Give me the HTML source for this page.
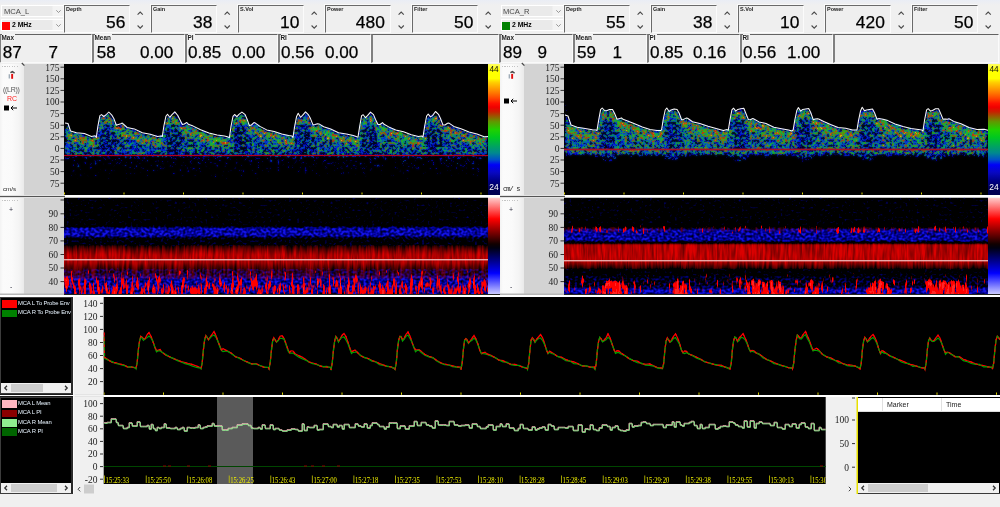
<!DOCTYPE html><html lang="en"><head><meta charset="utf-8"><title>TCD Monitor</title><style>
*{box-sizing:border-box;margin:0;padding:0}
html,body{width:1000px;height:507px;overflow:hidden;background:#f0f0f0}
body{position:relative;font-family:"Liberation Sans",sans-serif;color:#000}
.a{position:absolute}
.top{left:0;top:0;width:1000px;height:5px;background:linear-gradient(#eaedf5,#f0f0f0)}
.combo{position:absolute;height:12px;width:63px;background:linear-gradient(90deg,#eaeaea 0,#eaeaea 50px,#f3f3f3 51px);border:1px solid #fff;font-size:8px;line-height:10px;color:#484848;white-space:nowrap}
.combo span{position:absolute;left:2px;top:1px;font-size:7.6px}
.combo b{position:absolute;left:10px;top:0.4px;color:#000;font-size:6.8px}
.combo i{position:absolute;left:0.4px;top:2.4px;width:7.6px;height:7.8px}
.combo svg{position:absolute;right:0;top:0}
.pbox{position:absolute;top:5px;height:28px;width:66px;border-bottom:1px solid #fcfcfc;box-shadow:-1px -1px 0 #fafafa;border-top:1px solid #6a6a6a;border-left:1px solid #6a6a6a;border-right:1px solid #fbfbfb;background:#efefef}
.pbox em,.sbox em{position:absolute;left:1px;top:-1.5px;font-style:normal;font-size:5.5px;line-height:8px;font-weight:bold;color:#222}
.sbox em{font-size:6.4px;left:0.5px;top:-0.6px;line-height:7px;background:#f4f4f4;padding:0 1px 0 0}
.pbox u{position:absolute;right:3.6px;top:5.5px;text-decoration:none;-webkit-text-stroke:0.25px #000;font-size:17.4px;line-height:20px}
.sbox{position:absolute;top:34px;height:29px;border-top:1px solid #626262;border-left:2px solid #808080;border-bottom:1px solid #f9f9f9;border-right:1px solid #fbfbfb;background:#efefef}
.sbox u{position:absolute;top:8px;text-decoration:none;-webkit-text-stroke:0.25px #000;font-size:17.1px;line-height:20px;white-space:nowrap}
.spin{position:absolute;top:6px;width:17px;height:27px}
.icol{position:absolute;width:24px;background:linear-gradient(90deg,#f3f3f3 0,#fbfbfb 3px,#fafafa 12px,#f4f4f4 19px,#eaeaea 24px)}
.acol{position:absolute;width:40px;background:#d3d3d3}
.leg{position:absolute;left:0;width:73px;background:#000;border:1px solid #3c3c3c;border-right:2px solid #2a2a2a}
.leg i{position:absolute;left:1px;width:15px;height:7.5px}
.leg span{position:absolute;left:17px;font-size:5.9px;line-height:8px;color:#e8f4ff;white-space:nowrap;letter-spacing:-0.15px}
.sb{position:absolute;height:10px;background:#f0f0f0}
.sb s{position:absolute;top:1px;height:8px;background:#cdcdcd}
</style></head><body>
<div class="a top"></div>
<div class="combo" style="left:1px;top:5px;width:63px"><span>MCA_L</span><svg width="12" height="10" viewBox="0 0 12 10"><path d="M5.3 4.3l2.2 2.2L9.7 4.3" fill="none" stroke="#8a8a8a" stroke-width="0.9"/></svg></div>
<div class="combo" style="left:1px;top:19px;width:63px"><i style="background:#ff0000"></i><b>2 MHz</b><svg width="12" height="10" viewBox="0 0 12 10"><path d="M5.3 4.3l2.2 2.2L9.7 4.3" fill="none" stroke="#8a8a8a" stroke-width="0.9"/></svg></div>
<div class="pbox" style="left:64px"><em>Depth</em><u>56</u></div>
<svg class="spin" style="left:131px" viewBox="0 0 17 27"><path d="M6.6 8.6l2.6-2.6 2.6 2.6M6.6 19.5l2.6 2.6 2.6-2.6" fill="none" stroke="#4a4a4a" stroke-width="1.1"/></svg>
<div class="pbox" style="left:151px"><em>Gain</em><u>38</u></div>
<svg class="spin" style="left:218px" viewBox="0 0 17 27"><path d="M6.6 8.6l2.6-2.6 2.6 2.6M6.6 19.5l2.6 2.6 2.6-2.6" fill="none" stroke="#4a4a4a" stroke-width="1.1"/></svg>
<div class="pbox" style="left:238px"><em>S.Vol</em><u>10</u></div>
<svg class="spin" style="left:305px" viewBox="0 0 17 27"><path d="M6.6 8.6l2.6-2.6 2.6 2.6M6.6 19.5l2.6 2.6 2.6-2.6" fill="none" stroke="#4a4a4a" stroke-width="1.1"/></svg>
<div class="pbox" style="left:325px"><em>Power</em><u style="right:5.2px">480</u></div>
<svg class="spin" style="left:392px" viewBox="0 0 17 27"><path d="M6.6 8.6l2.6-2.6 2.6 2.6M6.6 19.5l2.6 2.6 2.6-2.6" fill="none" stroke="#4a4a4a" stroke-width="1.1"/></svg>
<div class="pbox" style="left:412px"><em>Filter</em><u>50</u></div>
<svg class="spin" style="left:479px" viewBox="0 0 17 27"><path d="M6.6 8.6l2.6-2.6 2.6 2.6M6.6 19.5l2.6 2.6 2.6-2.6" fill="none" stroke="#4a4a4a" stroke-width="1.1"/></svg>
<div class="sbox" style="left:-1px;width:93px"><em>Max</em><u style="left:1.8px">87</u><u style="left:47.4px">7</u></div>
<div class="sbox" style="left:92px;width:93px"><em>Mean</em><u style="left:2.7px">58</u><u style="left:46px">0.00</u></div>
<div class="sbox" style="left:185px;width:93px"><em>PI</em><u style="left:1px">0.85</u><u style="left:45px">0.00</u></div>
<div class="sbox" style="left:278px;width:93px"><em>RI</em><u style="left:1px">0.56</u><u style="left:45px">0.00</u></div>
<div class="sbox" style="left:371px;width:128px"><em></em></div>
<div class="combo" style="left:501px;top:5px;width:63px"><span style="left:1px">MCA_R</span><svg width="12" height="10" viewBox="0 0 12 10"><path d="M5.3 4.3l2.2 2.2L9.7 4.3" fill="none" stroke="#8a8a8a" stroke-width="0.9"/></svg></div>
<div class="combo" style="left:501px;top:19px;width:63px"><i style="background:#008000"></i><b>2 MHz</b><svg width="12" height="10" viewBox="0 0 12 10"><path d="M5.3 4.3l2.2 2.2L9.7 4.3" fill="none" stroke="#8a8a8a" stroke-width="0.9"/></svg></div>
<div class="pbox" style="left:564px"><em>Depth</em><u>55</u></div>
<svg class="spin" style="left:631px" viewBox="0 0 17 27"><path d="M6.6 8.6l2.6-2.6 2.6 2.6M6.6 19.5l2.6 2.6 2.6-2.6" fill="none" stroke="#4a4a4a" stroke-width="1.1"/></svg>
<div class="pbox" style="left:651px"><em>Gain</em><u>38</u></div>
<svg class="spin" style="left:718px" viewBox="0 0 17 27"><path d="M6.6 8.6l2.6-2.6 2.6 2.6M6.6 19.5l2.6 2.6 2.6-2.6" fill="none" stroke="#4a4a4a" stroke-width="1.1"/></svg>
<div class="pbox" style="left:738px"><em>S.Vol</em><u>10</u></div>
<svg class="spin" style="left:805px" viewBox="0 0 17 27"><path d="M6.6 8.6l2.6-2.6 2.6 2.6M6.6 19.5l2.6 2.6 2.6-2.6" fill="none" stroke="#4a4a4a" stroke-width="1.1"/></svg>
<div class="pbox" style="left:825px"><em>Power</em><u style="right:5.2px">420</u></div>
<svg class="spin" style="left:892px" viewBox="0 0 17 27"><path d="M6.6 8.6l2.6-2.6 2.6 2.6M6.6 19.5l2.6 2.6 2.6-2.6" fill="none" stroke="#4a4a4a" stroke-width="1.1"/></svg>
<div class="pbox" style="left:912px"><em>Filter</em><u>50</u></div>
<svg class="spin" style="left:979px" viewBox="0 0 17 27"><path d="M6.6 8.6l2.6-2.6 2.6 2.6M6.6 19.5l2.6 2.6 2.6-2.6" fill="none" stroke="#4a4a4a" stroke-width="1.1"/></svg>
<div class="sbox" style="left:499px;width:74px"><em>Max</em><u style="left:2px">89</u><u style="left:36.6px">9</u></div>
<div class="sbox" style="left:573px;width:74px"><em>Mean</em><u style="left:2px">59</u><u style="left:37.4px">1</u></div>
<div class="sbox" style="left:647px;width:93px"><em>PI</em><u style="left:1px">0.85</u><u style="left:44px">0.16</u></div>
<div class="sbox" style="left:740px;width:93px"><em>RI</em><u style="left:1px">0.56</u><u style="left:45px">1.00</u></div>
<div class="sbox" style="left:833px;width:166px"><em></em></div>
<div class="icol" style="left:0px;top:64px;height:131px"></div>
<div class="acol" style="left:24px;top:64px;height:131px"></div>
<div class="icol" style="left:0px;top:197.5px;height:96px"></div>
<div class="acol" style="left:24px;top:197.5px;height:96px"></div>
<div class="icol" style="left:500px;top:64px;height:131px"></div>
<div class="acol" style="left:524px;top:64px;height:131px"></div>
<div class="icol" style="left:500px;top:197.5px;height:96px"></div>
<div class="acol" style="left:524px;top:197.5px;height:96px"></div>
<svg class="a" style="left:0;top:0" width="1000" height="507" viewBox="0 0 1000 507">
<defs>
<linearGradient id="cb1" x1="0" y1="0" x2="0" y2="1">
<stop offset="0" stop-color="#ffff60"/><stop offset="0.05" stop-color="#ffff00"/><stop offset="0.11" stop-color="#ffff00"/><stop offset="0.14" stop-color="#ffd000"/><stop offset="0.18" stop-color="#ffa400"/><stop offset="0.22" stop-color="#ff7800"/><stop offset="0.26" stop-color="#ff4800"/><stop offset="0.3" stop-color="#ff1000"/><stop offset="0.33" stop-color="#f00000"/><stop offset="0.365" stop-color="#c82000"/><stop offset="0.4" stop-color="#985800"/><stop offset="0.44" stop-color="#609800"/><stop offset="0.5" stop-color="#20d000"/><stop offset="0.56" stop-color="#00c820"/><stop offset="0.62" stop-color="#00a858"/><stop offset="0.68" stop-color="#008890"/><stop offset="0.73" stop-color="#0050c8"/><stop offset="0.77" stop-color="#0000f8"/><stop offset="0.83" stop-color="#0808c0"/><stop offset="0.89" stop-color="#000088"/><stop offset="0.95" stop-color="#000058"/><stop offset="1" stop-color="#000050"/>
</linearGradient>
<linearGradient id="cb2" x1="0" y1="0" x2="0" y2="1">
<stop offset="0" stop-color="#ffd0d0"/><stop offset="0.22" stop-color="#ff0000"/><stop offset="0.48" stop-color="#100000"/><stop offset="0.52" stop-color="#000010"/><stop offset="0.78" stop-color="#0000ff"/><stop offset="1" stop-color="#d0d0ff"/>
</linearGradient>
<filter id="fs" filterUnits="userSpaceOnUse" x="0" y="60" width="1000" height="140" color-interpolation-filters="sRGB">
<feGaussianBlur in="SourceGraphic" stdDeviation="1.5" result="sb"/>
<feTurbulence type="fractalNoise" baseFrequency="0.4" numOctaves="2" seed="11" result="t"/>
<feColorMatrix in="t" type="matrix" values="1 0 0 0 0  1 0 0 0 0  1 0 0 0 0  0 0 0 0 1" result="n"/>
<feComposite in="sb" in2="n" operator="arithmetic" k1="0" k2="1.5" k3="1.7" k4="-1.75" result="m"/>
<feComponentTransfer in="m" result="c">
<feFuncR type="table" tableValues="0 0 0 0 0 .08 .38 .75 1 1 1"/>
<feFuncG type="table" tableValues="0 0 0 .35 .62 .82 .62 .2 0 .5 1"/>
<feFuncB type="table" tableValues="0 .45 1 .8 .45 .05 0 0 0 0 0"/>
<feFuncA type="linear" slope="0" intercept="1"/>
</feComponentTransfer>
<feGaussianBlur stdDeviation="0.8" result="cb"/>
<feComposite in="c" in2="cb" operator="arithmetic" k1="0" k2="0.5" k3="0.5" k4="0"/>
</filter>
<filter id="fb" filterUnits="userSpaceOnUse" x="0" y="196" width="1000" height="100" color-interpolation-filters="sRGB">
<feGaussianBlur in="SourceGraphic" stdDeviation="0.5 1.3" result="sb"/>
<feTurbulence type="fractalNoise" baseFrequency="0.36 0.42" numOctaves="1" seed="5" result="t"/>
<feColorMatrix in="t" type="matrix" values="1 0 0 0 0  1 0 0 0 0  1 0 0 0 0  0 0 0 0 1" result="n"/>
<feComposite in="sb" in2="n" operator="arithmetic" k1="0" k2="1.6" k3="2" k4="-1.7" result="m"/>
<feColorMatrix in="m" type="matrix" values="0.2 0 0 0 -0.12  0.2 0 0 0 -0.12  0 0 0 0 0.9  1.0 0 0 0 0"/>
<feGaussianBlur stdDeviation="0.5"/>
</filter>
<filter id="fr" filterUnits="userSpaceOnUse" x="0" y="196" width="1000" height="100" color-interpolation-filters="sRGB">
<feGaussianBlur in="SourceGraphic" stdDeviation="0.8 1" result="sb"/>
<feTurbulence type="fractalNoise" baseFrequency="0.4 0.05" numOctaves="2" seed="8" result="t"/>
<feColorMatrix in="t" type="matrix" values="1 0 0 0 0  1 0 0 0 0  1 0 0 0 0  0 0 0 0 1" result="n"/>
<feComposite in="sb" in2="n" operator="arithmetic" k1="0" k2="1.7" k3="0.9" k4="-1.3" result="m"/>
<feColorMatrix in="m" type="matrix" values="0 0 0 0 0.86  0 0 0 0 0  0 0 0 0 0  1.0 0 0 0 0"/>
<feGaussianBlur stdDeviation="0.5"/>
</filter>
<filter id="fx" filterUnits="userSpaceOnUse" x="0" y="196" width="1000" height="100" color-interpolation-filters="sRGB">
<feGaussianBlur in="SourceGraphic" stdDeviation="1.5 1.5" result="sb"/>
<feTurbulence type="fractalNoise" baseFrequency="0.38 0.08" numOctaves="2" seed="14" result="t"/>
<feColorMatrix in="t" type="matrix" values="1 0 0 0 0  1 0 0 0 0  1 0 0 0 0  0 0 0 0 1" result="n"/>
<feComposite in="sb" in2="n" operator="arithmetic" k1="0" k2="2.2" k3="3" k4="-2.55" result="m"/>
<feColorMatrix in="m" type="matrix" values="0 0 0 0 1  4 0 0 0 -3.85  4 0 0 0 -3.85  3 0 0 0 -0.6"/>
<feGaussianBlur stdDeviation="0.5"/>
</filter>
</defs>
<clipPath id="c0"><rect x="64" y="64" width="424" height="131"/></clipPath>
<clipPath id="e0"><polygon points="64,156.0 65,123 68,123.5 70.5,131 76.4,132.7 84.4,133.6 91.5,136.4 95.1,135.8 96.3,137.5 97.9,126.1 99.9,115.6 101.5,114.6 103.8,116.5 105.8,115 108.8,112 111.8,115.1 113.8,118.4 116.3,125.2 118.3,124.4 120.8,123.8 122.3,123.1 127.1,127.5 134.3,128.9 142.3,132.8 150.3,134.3 157.5,136.6 161.1,136.1 162.3,136.5 163.9,125.8 165.9,116.3 167.5,114.2 169.8,117.3 171.8,114.8 174.8,111.8 177.8,115.5 179.8,119.5 182.3,124.6 184.3,124 186.8,122.5 188.3,124.2 193.2,126.1 200.6,129.7 208.9,133 217.1,134.9 224.5,135.9 228.2,137.1 229.4,137.8 231,126.4 233,116.4 234.6,114.5 236.9,116.6 238.9,114.3 241.9,112.1 244.9,114.3 246.9,118.8 249.4,125.6 251.4,125 253.9,122.6 255.4,123.1 259.9,126.4 266.7,129.9 274.2,131.5 281.7,133.9 288.5,135.5 291.9,136 293,137.5 294.6,126.6 296.6,116.4 298.2,113.3 300.5,117.3 302.5,115.4 305.5,111.9 308.5,114.9 310.5,118.6 313,124.9 315,124.5 317.5,123.8 319,123.9 323.7,126.7 330.7,129.1 338.5,132.7 346.3,134 353.3,135.4 356.8,136.7 358,137.1 359.6,126.9 361.6,115.6 363.2,114.7 365.5,117.7 367.5,115.7 370.5,112.1 373.5,114.6 375.5,119.5 378,124.4 380,124.5 382.5,122.6 384,124.3 388.7,126.9 395.7,129.9 403.5,131.7 411.3,134.7 418.3,136.6 421.8,136 423,137.1 424.6,126.7 426.6,116 428.2,114.1 430.5,116.9 432.5,115.6 435.5,111.5 438.5,114.3 440.5,118.5 443,125.1 445,125 447.5,123.3 449,123.1 453.8,126.4 461,128.8 469,132 477,134 484.2,136.7 487.8,136.6 488,136.9 488,156.0"/></clipPath>
<g clip-path="url(#c0)">
<g filter="url(#fs)">
<rect x="54" y="60" width="444" height="139" fill="#000000"/>
<g clip-path="url(#e0)"><rect x="64" y="64" width="424" height="92.5" fill="#c2c2c2"/>
<polyline points="64,129.7 67,131.3 70,134.5 73,136.7 76,137.5 79,138 82,138.6 85,139.3 88,140 91,141.2 94,141 97,137.5 100,128.3 103,124.5 106,121.4 109,121.7 112,123.3 115,126.7 118,129.5 121,129 124,130.7 127,132.4 130,133.1 133,134 136,135.1 139,136.2 142,137.7 145,138.3 148,139 151,139.7 154,140.5 157,141.5 160,141.3 163,136.8 166,128.3 169,124.5 172,121.6 175,121.8 178,123.3 181,127 184,129.1 187,128.7 190,130.3 193,131.2 196,132.5 199,133.9 202,135.2 205,136.5 208,137.7 211,138.5 214,139.2 217,139.8 220,140.3 223,140.7 226,141.4 229,142.5 232,129.9 235,125.9 238,122.5 241,121.2 244,122.7 247,124.1 250,130.4 253,128.5 256,130 259,131.2 262,132.5 265,134 268,135.2 271,135.9 274,136.7 277,137.5 280,138.3 283,139.2 286,139.9 289,140.6 292,141.2 295,130.6 298,126.6 301,123.4 304,121.2 307,122.5 310,123.8 313,129.9 316,129.2 319,129.8 322,131 325,132.2 328,133.2 331,134.5 334,135.6 337,137 340,138 343,138.5 346,139 349,139.7 352,140.1 355,141 358,142.1 361,129.4 364,125.9 367,122.4 370,121.7 373,123.1 376,125.5 379,129.4 382,128.5 385,130.4 388,131.5 391,132.9 394,134.1 397,135.2 400,135.9 403,136.9 406,137.8 409,138.8 412,139.9 415,140.7 418,141.5 421,141.1 424,135.6 427,128.2 430,124.1 433,121.3 436,121.7 439,123.4 442,127.4 445,130 448,128.9 451,130.5 454,131.5 457,132.4 460,133.5 463,134.6 466,135.8 469,137 472,137.8 475,138.7 478,139.5 481,140.5 484,141.7 487,141.6 488,141.9" fill="none" stroke="#dedede" stroke-width="13" stroke-linejoin="round"/>
<polyline points="64,129.7 67,131.3 70,134.5 73,136.7 76,137.5 79,138 82,138.6 85,139.3 88,140 91,141.2 94,141 97,137.5 100,128.3 103,124.5 106,121.4 109,121.7 112,123.3 115,126.7 118,129.5 121,129 124,130.7 127,132.4 130,133.1 133,134 136,135.1 139,136.2 142,137.7 145,138.3 148,139 151,139.7 154,140.5 157,141.5 160,141.3 163,136.8 166,128.3 169,124.5 172,121.6 175,121.8 178,123.3 181,127 184,129.1 187,128.7 190,130.3 193,131.2 196,132.5 199,133.9 202,135.2 205,136.5 208,137.7 211,138.5 214,139.2 217,139.8 220,140.3 223,140.7 226,141.4 229,142.5 232,129.9 235,125.9 238,122.5 241,121.2 244,122.7 247,124.1 250,130.4 253,128.5 256,130 259,131.2 262,132.5 265,134 268,135.2 271,135.9 274,136.7 277,137.5 280,138.3 283,139.2 286,139.9 289,140.6 292,141.2 295,130.6 298,126.6 301,123.4 304,121.2 307,122.5 310,123.8 313,129.9 316,129.2 319,129.8 322,131 325,132.2 328,133.2 331,134.5 334,135.6 337,137 340,138 343,138.5 346,139 349,139.7 352,140.1 355,141 358,142.1 361,129.4 364,125.9 367,122.4 370,121.7 373,123.1 376,125.5 379,129.4 382,128.5 385,130.4 388,131.5 391,132.9 394,134.1 397,135.2 400,135.9 403,136.9 406,137.8 409,138.8 412,139.9 415,140.7 418,141.5 421,141.1 424,135.6 427,128.2 430,124.1 433,121.3 436,121.7 439,123.4 442,127.4 445,130 448,128.9 451,130.5 454,131.5 457,132.4 460,133.5 463,134.6 466,135.8 469,137 472,137.8 475,138.7 478,139.5 481,140.5 484,141.7 487,141.6 488,141.9" fill="none" stroke="#ededed" stroke-width="6" stroke-linejoin="round"/>
<ellipse cx="41.5" cy="141" rx="9" ry="17.6" fill="#adadad"/>
<ellipse cx="107.3" cy="141" rx="9" ry="17.6" fill="#adadad"/>
<ellipse cx="173.3" cy="141" rx="9" ry="17.6" fill="#adadad"/>
<ellipse cx="240.4" cy="141" rx="9" ry="17.6" fill="#adadad"/>
<ellipse cx="304" cy="141" rx="9" ry="17.6" fill="#adadad"/>
<ellipse cx="369" cy="141" rx="9" ry="17.6" fill="#adadad"/>
<ellipse cx="434" cy="141" rx="9" ry="17.6" fill="#adadad"/>
<ellipse cx="500" cy="141" rx="9" ry="17.6" fill="#adadad"/>
</g>
<rect x="65.2" y="109" width="1.8" height="15" fill="#d9d9d9"/>
<rect x="64" y="156" width="424" height="6" fill="#737373"/>
<rect x="64" y="162" width="424" height="8" fill="#6b6b6b"/>
<rect x="64" y="170" width="424" height="8" fill="#595959"/>
<rect x="64" y="178" width="424" height="6" fill="#333333"/>
</g>
<polyline points="65,123 68,123.5 70.5,131 76.4,132.7 84.4,133.6 91.5,136.4 95.1,135.8 96.3,137.5 97.9,126.1 99.9,115.6 101.5,114.6 103.8,116.5 105.8,115 108.8,112 111.8,115.1 113.8,118.4 116.3,125.2 118.3,124.4 120.8,123.8 122.3,123.1 127.1,127.5 134.3,128.9 142.3,132.8 150.3,134.3 157.5,136.6 161.1,136.1 162.3,136.5 163.9,125.8 165.9,116.3 167.5,114.2 169.8,117.3 171.8,114.8 174.8,111.8 177.8,115.5 179.8,119.5 182.3,124.6 184.3,124 186.8,122.5 188.3,124.2 193.2,126.1 200.6,129.7 208.9,133 217.1,134.9 224.5,135.9 228.2,137.1 229.4,137.8 231,126.4 233,116.4 234.6,114.5 236.9,116.6 238.9,114.3 241.9,112.1 244.9,114.3 246.9,118.8 249.4,125.6 251.4,125 253.9,122.6 255.4,123.1 259.9,126.4 266.7,129.9 274.2,131.5 281.7,133.9 288.5,135.5 291.9,136 293,137.5 294.6,126.6 296.6,116.4 298.2,113.3 300.5,117.3 302.5,115.4 305.5,111.9 308.5,114.9 310.5,118.6 313,124.9 315,124.5 317.5,123.8 319,123.9 323.7,126.7 330.7,129.1 338.5,132.7 346.3,134 353.3,135.4 356.8,136.7 358,137.1 359.6,126.9 361.6,115.6 363.2,114.7 365.5,117.7 367.5,115.7 370.5,112.1 373.5,114.6 375.5,119.5 378,124.4 380,124.5 382.5,122.6 384,124.3 388.7,126.9 395.7,129.9 403.5,131.7 411.3,134.7 418.3,136.6 421.8,136 423,137.1 424.6,126.7 426.6,116 428.2,114.1 430.5,116.9 432.5,115.6 435.5,111.5 438.5,114.3 440.5,118.5 443,125.1 445,125 447.5,123.3 449,123.1 453.8,126.4 461,128.8 469,132 477,134 484.2,136.7 487.8,136.6 488,136.9" fill="none" stroke="#f8f8f8" stroke-width="1.05" stroke-linejoin="round"/>
<rect x="64" y="154.9" width="424" height="1.2" fill="#b4001c"/>
<rect x="64" y="192.5" width="1" height="2" fill="#d8d000"/>
<rect x="123.5" y="192.5" width="1" height="2" fill="#d8d000"/>
<rect x="183" y="192.5" width="1" height="2" fill="#d8d000"/>
<rect x="242.5" y="192.5" width="1" height="2" fill="#d8d000"/>
<rect x="302" y="192.5" width="1" height="2" fill="#d8d000"/>
<rect x="361.5" y="192.5" width="1" height="2" fill="#d8d000"/>
<rect x="421" y="192.5" width="1" height="2" fill="#d8d000"/>
<rect x="480.5" y="192.5" width="1" height="2" fill="#d8d000"/>
</g>
<clipPath id="c500"><rect x="564" y="64" width="424" height="131"/></clipPath>
<clipPath id="e500"><polygon points="564,150.0 565,115 568,116 571,125 577.2,127.2 585.1,128.6 592.3,129.8 595.8,129.9 597,130.5 598.6,120.6 600.6,109.7 602.2,108 604.5,110.5 606.5,110.7 609.5,109.5 612.5,109.6 614.5,113.3 617,119.3 619,118.7 621.5,117.9 623,119.3 627.6,120.9 634.6,123.8 642.3,126.9 650,129.4 657,130.4 660.4,130.6 661.6,129.9 663.2,119.5 665.2,110 666.8,108 669.1,111.5 671.1,109.9 674.1,108.9 677.1,109.6 679.1,113 681.6,119.8 683.6,119.4 686.1,118.1 687.6,118.2 692.5,121.7 699.8,123.4 708,126.2 716.1,128.6 723.4,130.6 727.1,129.6 728.3,130.2 729.9,120.4 731.9,109.9 733.5,108.2 735.8,111.1 737.8,109.4 740.8,108.8 743.8,108.2 745.8,113.3 748.3,119.4 750.3,119.8 752.8,118.5 754.3,119.3 759,121.9 766,123.5 773.8,127.3 781.5,128.8 788.5,130.1 792,130.9 793.2,129.9 794.8,120.2 796.8,110.5 798.4,107.6 800.7,111.1 802.7,109.5 805.7,109 808.7,108.6 810.7,112.5 813.2,119.7 815.2,118.9 817.7,118.8 819.2,119.2 823.7,121.5 830.5,124.5 838.1,127.4 845.7,128.3 852.5,130 855.9,130 857,130 858.6,120.2 860.6,110.7 862.2,107.3 864.5,110.8 866.5,110.1 869.5,109.5 872.5,109.1 874.5,112.7 877,119.3 879,118.4 881.5,118.9 883,119.3 887.8,120.6 895,124 903,126.6 911,128.5 918.2,129.4 921.8,130.1 923,131 924.6,119.9 926.6,109.9 928.2,108.7 930.5,111.1 932.5,110.5 935.5,108.8 938.5,108.8 940.5,113.1 943,119.3 945,119.1 947.5,119.2 949,118.8 953.8,121.4 961,123.8 969,127.5 977,129.5 984.2,129.3 987.8,130.2 988,130.5 988,150.0"/></clipPath>
<g clip-path="url(#c500)">
<g filter="url(#fs)">
<rect x="554" y="60" width="444" height="139" fill="#000000"/>
<g clip-path="url(#e500)"><rect x="564" y="64" width="424" height="86.5" fill="#cccccc"/>
<polyline points="564,122.1 567,124.1 570,127 573,130.7 576,131.8 579,132.5 582,133 585,133.6 588,134.1 591,134.6 594,134.9 597,135.5 600,123.4 603,120.2 606,117 609,116.4 612,117.9 615,119.5 618,124 621,123.1 624,124.8 627,125.8 630,126.9 633,128.1 636,129.4 639,130.6 642,131.8 645,132.8 648,133.8 651,134.6 654,135 657,135.4 660,135.6 663,125.8 666,121.9 669,118.3 672,116.1 675,117 678,118.6 681,123.2 684,124.2 687,124 690,125.5 693,126.8 696,127.5 699,128.3 702,129.3 705,130.2 708,131.2 711,132.1 714,133 717,133.9 720,134.7 723,135.5 726,134.9 729,130.9 732,122.6 735,118.9 738,116 741,116.4 744,118.1 747,121.2 750,124.8 753,123.9 756,125.7 759,127 762,127.6 765,128.7 768,129.8 771,131 774,132.4 777,132.9 780,133.5 783,134.1 786,134.6 789,135.2 792,135.9 795,124.9 798,121.4 801,117.8 804,115.8 807,116.9 810,118.5 813,124.1 816,123.9 819,124.5 822,126 825,127 828,128.4 831,129.7 834,130.8 837,132 840,132.6 843,133 846,133.6 849,134.1 852,134.9 855,135 858,128.9 861,122.4 864,118.8 867,116.1 870,116.5 873,118.4 876,121.7 879,123.4 882,124 885,125.3 888,126.2 891,127.2 894,128.6 897,129.7 900,130.6 903,131.6 906,132.3 909,133 912,133.6 915,134.1 918,134.4 921,134.9 924,129 927,122.5 930,118.8 933,116.1 936,116.7 939,118.4 942,121.8 945,124.1 948,124.1 951,125.5 954,126.4 957,127.4 960,128.6 963,129.8 966,131.1 969,132.5 972,133.2 975,134 978,134.5 981,134.5 984,134.8 987,135 988,135.5" fill="none" stroke="#e6e6e6" stroke-width="13" stroke-linejoin="round"/>
<polyline points="564,122.1 567,124.1 570,127 573,130.7 576,131.8 579,132.5 582,133 585,133.6 588,134.1 591,134.6 594,134.9 597,135.5 600,123.4 603,120.2 606,117 609,116.4 612,117.9 615,119.5 618,124 621,123.1 624,124.8 627,125.8 630,126.9 633,128.1 636,129.4 639,130.6 642,131.8 645,132.8 648,133.8 651,134.6 654,135 657,135.4 660,135.6 663,125.8 666,121.9 669,118.3 672,116.1 675,117 678,118.6 681,123.2 684,124.2 687,124 690,125.5 693,126.8 696,127.5 699,128.3 702,129.3 705,130.2 708,131.2 711,132.1 714,133 717,133.9 720,134.7 723,135.5 726,134.9 729,130.9 732,122.6 735,118.9 738,116 741,116.4 744,118.1 747,121.2 750,124.8 753,123.9 756,125.7 759,127 762,127.6 765,128.7 768,129.8 771,131 774,132.4 777,132.9 780,133.5 783,134.1 786,134.6 789,135.2 792,135.9 795,124.9 798,121.4 801,117.8 804,115.8 807,116.9 810,118.5 813,124.1 816,123.9 819,124.5 822,126 825,127 828,128.4 831,129.7 834,130.8 837,132 840,132.6 843,133 846,133.6 849,134.1 852,134.9 855,135 858,128.9 861,122.4 864,118.8 867,116.1 870,116.5 873,118.4 876,121.7 879,123.4 882,124 885,125.3 888,126.2 891,127.2 894,128.6 897,129.7 900,130.6 903,131.6 906,132.3 909,133 912,133.6 915,134.1 918,134.4 921,134.9 924,129 927,122.5 930,118.8 933,116.1 936,116.7 939,118.4 942,121.8 945,124.1 948,124.1 951,125.5 954,126.4 957,127.4 960,128.6 963,129.8 966,131.1 969,132.5 972,133.2 975,134 978,134.5 981,134.5 984,134.8 987,135 988,135.5" fill="none" stroke="#f2f2f2" stroke-width="6" stroke-linejoin="round"/>
<ellipse cx="542.5" cy="134.7" rx="9" ry="17.4" fill="#b2b2b2"/>
<ellipse cx="608" cy="134.7" rx="9" ry="17.4" fill="#b2b2b2"/>
<ellipse cx="672.6" cy="134.7" rx="9" ry="17.4" fill="#b2b2b2"/>
<ellipse cx="739.3" cy="134.7" rx="9" ry="17.4" fill="#b2b2b2"/>
<ellipse cx="804.2" cy="134.7" rx="9" ry="17.4" fill="#b2b2b2"/>
<ellipse cx="868" cy="134.7" rx="9" ry="17.4" fill="#b2b2b2"/>
<ellipse cx="934" cy="134.7" rx="9" ry="17.4" fill="#b2b2b2"/>
<ellipse cx="1000" cy="134.7" rx="9" ry="17.4" fill="#b2b2b2"/>
</g>
<rect x="565.2" y="101" width="1.8" height="15" fill="#d9d9d9"/>
<rect x="564" y="150" width="424" height="4" fill="#d9d9d9"/>
<rect x="564" y="154" width="424" height="2" fill="#999999"/>
<rect x="564" y="156" width="424" height="2" fill="#666666"/>
<rect x="564" y="158" width="424" height="2" fill="#383838"/>
<ellipse cx="542.5" cy="154.5" rx="10" ry="8" fill="#9e9e9e"/>
<ellipse cx="608" cy="154.5" rx="10" ry="8" fill="#9e9e9e"/>
<ellipse cx="672.6" cy="154.5" rx="10" ry="8" fill="#9e9e9e"/>
<ellipse cx="739.3" cy="154.5" rx="10" ry="8" fill="#9e9e9e"/>
<ellipse cx="804.2" cy="154.5" rx="10" ry="8" fill="#9e9e9e"/>
<ellipse cx="868" cy="154.5" rx="10" ry="8" fill="#9e9e9e"/>
<ellipse cx="934" cy="154.5" rx="10" ry="8" fill="#9e9e9e"/>
<ellipse cx="1000" cy="154.5" rx="10" ry="8" fill="#9e9e9e"/>
<rect x="564" y="150" width="424" height="4" fill="#d9d9d9"/>
</g>
<polyline points="565,115 568,116 571,125 577.2,127.2 585.1,128.6 592.3,129.8 595.8,129.9 597,130.5 598.6,120.6 600.6,109.7 602.2,108 604.5,110.5 606.5,110.7 609.5,109.5 612.5,109.6 614.5,113.3 617,119.3 619,118.7 621.5,117.9 623,119.3 627.6,120.9 634.6,123.8 642.3,126.9 650,129.4 657,130.4 660.4,130.6 661.6,129.9 663.2,119.5 665.2,110 666.8,108 669.1,111.5 671.1,109.9 674.1,108.9 677.1,109.6 679.1,113 681.6,119.8 683.6,119.4 686.1,118.1 687.6,118.2 692.5,121.7 699.8,123.4 708,126.2 716.1,128.6 723.4,130.6 727.1,129.6 728.3,130.2 729.9,120.4 731.9,109.9 733.5,108.2 735.8,111.1 737.8,109.4 740.8,108.8 743.8,108.2 745.8,113.3 748.3,119.4 750.3,119.8 752.8,118.5 754.3,119.3 759,121.9 766,123.5 773.8,127.3 781.5,128.8 788.5,130.1 792,130.9 793.2,129.9 794.8,120.2 796.8,110.5 798.4,107.6 800.7,111.1 802.7,109.5 805.7,109 808.7,108.6 810.7,112.5 813.2,119.7 815.2,118.9 817.7,118.8 819.2,119.2 823.7,121.5 830.5,124.5 838.1,127.4 845.7,128.3 852.5,130 855.9,130 857,130 858.6,120.2 860.6,110.7 862.2,107.3 864.5,110.8 866.5,110.1 869.5,109.5 872.5,109.1 874.5,112.7 877,119.3 879,118.4 881.5,118.9 883,119.3 887.8,120.6 895,124 903,126.6 911,128.5 918.2,129.4 921.8,130.1 923,131 924.6,119.9 926.6,109.9 928.2,108.7 930.5,111.1 932.5,110.5 935.5,108.8 938.5,108.8 940.5,113.1 943,119.3 945,119.1 947.5,119.2 949,118.8 953.8,121.4 961,123.8 969,127.5 977,129.5 984.2,129.3 987.8,130.2 988,130.5" fill="none" stroke="#f8f8f8" stroke-width="1.05" stroke-linejoin="round"/>
<rect x="564" y="148.6" width="424" height="1.8" fill="#a41226"/>
<rect x="564" y="192.5" width="1" height="2" fill="#d8d000"/>
<rect x="623.5" y="192.5" width="1" height="2" fill="#d8d000"/>
<rect x="683" y="192.5" width="1" height="2" fill="#d8d000"/>
<rect x="742.5" y="192.5" width="1" height="2" fill="#d8d000"/>
<rect x="802" y="192.5" width="1" height="2" fill="#d8d000"/>
<rect x="861.5" y="192.5" width="1" height="2" fill="#d8d000"/>
<rect x="921" y="192.5" width="1" height="2" fill="#d8d000"/>
<rect x="980.5" y="192.5" width="1" height="2" fill="#d8d000"/>
</g>
<rect x="488" y="64" width="12" height="131" fill="url(#cb1)"/>
<text x="494" y="71.6" font-family="Liberation Sans,sans-serif" font-size="8.3" text-anchor="middle" fill="#111">44</text>
<text x="494" y="190.3" font-family="Liberation Sans,sans-serif" font-size="8.5" text-anchor="middle" fill="#fff">24</text>
<rect x="488" y="197.5" width="12" height="97" fill="url(#cb2)"/>
<rect x="988" y="64" width="12" height="131" fill="url(#cb1)"/>
<text x="994" y="71.6" font-family="Liberation Sans,sans-serif" font-size="8.3" text-anchor="middle" fill="#111">44</text>
<text x="994" y="190.3" font-family="Liberation Sans,sans-serif" font-size="8.5" text-anchor="middle" fill="#fff">24</text>
<rect x="988" y="197.5" width="12" height="97" fill="url(#cb2)"/>
<rect x="0" y="195" width="1000" height="2.5" fill="#fff"/>
<rect x="0" y="294" width="1000" height="1" fill="#222"/>
<rect x="0" y="295" width="1000" height="2" fill="#fff"/>
<rect x="73" y="395" width="927" height="2" fill="#fff"/>
<rect x="73" y="394.5" width="31" height="2.5" fill="#d8d8d8"/><rect x="73" y="395.3" width="31" height="1" fill="#fff"/>
<rect x="73.3" y="297" width="1" height="197" fill="#fff"/>
<rect x="0" y="195.5" width="65" height="2" fill="#c8c8c8"/><rect x="0" y="196" width="65" height="1" fill="#555"/>
<rect x="0" y="293.5" width="64" height="1.5" fill="#b8b8b8"/>
<rect x="500" y="195.5" width="65" height="2" fill="#c8c8c8"/><rect x="500" y="196" width="65" height="1" fill="#555"/>
<rect x="500" y="293.5" width="64" height="1.5" fill="#b8b8b8"/>
<text x="59.5" y="70.5" font-family="Liberation Serif,serif" font-size="9.5" text-anchor="end" fill="#222">175</text>
<rect x="60.5" y="66.7" width="3.5" height="1" fill="#333"/>
<text x="59.5" y="82.1" font-family="Liberation Serif,serif" font-size="9.5" text-anchor="end" fill="#222">150</text>
<rect x="60.5" y="78.3" width="3.5" height="1" fill="#333"/>
<text x="59.5" y="93.7" font-family="Liberation Serif,serif" font-size="9.5" text-anchor="end" fill="#222">125</text>
<rect x="60.5" y="89.9" width="3.5" height="1" fill="#333"/>
<text x="59.5" y="105.3" font-family="Liberation Serif,serif" font-size="9.5" text-anchor="end" fill="#222">100</text>
<rect x="60.5" y="101.5" width="3.5" height="1" fill="#333"/>
<text x="59.5" y="116.9" font-family="Liberation Serif,serif" font-size="9.5" text-anchor="end" fill="#222">75</text>
<rect x="60.5" y="113.1" width="3.5" height="1" fill="#333"/>
<text x="59.5" y="128.5" font-family="Liberation Serif,serif" font-size="9.5" text-anchor="end" fill="#222">50</text>
<rect x="60.5" y="124.7" width="3.5" height="1" fill="#333"/>
<text x="59.5" y="140.1" font-family="Liberation Serif,serif" font-size="9.5" text-anchor="end" fill="#222">25</text>
<rect x="60.5" y="136.3" width="3.5" height="1" fill="#333"/>
<text x="59.5" y="151.7" font-family="Liberation Serif,serif" font-size="9.5" text-anchor="end" fill="#222">0</text>
<rect x="60.5" y="147.9" width="3.5" height="1" fill="#333"/>
<text x="59.5" y="163.3" font-family="Liberation Serif,serif" font-size="9.5" text-anchor="end" fill="#222">25</text>
<rect x="60.5" y="159.5" width="3.5" height="1" fill="#333"/>
<text x="59.5" y="174.9" font-family="Liberation Serif,serif" font-size="9.5" text-anchor="end" fill="#222">50</text>
<rect x="60.5" y="171.1" width="3.5" height="1" fill="#333"/>
<text x="59.5" y="186.5" font-family="Liberation Serif,serif" font-size="9.5" text-anchor="end" fill="#222">75</text>
<rect x="60.5" y="182.7" width="3.5" height="1" fill="#333"/>
<text x="58" y="217.2" font-family="Liberation Serif,serif" font-size="9.5" text-anchor="end" fill="#222">90</text>
<rect x="60.5" y="213.3" width="3.5" height="1" fill="#333"/>
<text x="58" y="230.8" font-family="Liberation Serif,serif" font-size="9.5" text-anchor="end" fill="#222">80</text>
<rect x="60.5" y="226.9" width="3.5" height="1" fill="#333"/>
<text x="58" y="244.3" font-family="Liberation Serif,serif" font-size="9.5" text-anchor="end" fill="#222">70</text>
<rect x="60.5" y="240.4" width="3.5" height="1" fill="#333"/>
<text x="58" y="257.9" font-family="Liberation Serif,serif" font-size="9.5" text-anchor="end" fill="#222">60</text>
<rect x="60.5" y="254" width="3.5" height="1" fill="#333"/>
<text x="58" y="271.4" font-family="Liberation Serif,serif" font-size="9.5" text-anchor="end" fill="#222">50</text>
<rect x="60.5" y="267.5" width="3.5" height="1" fill="#333"/>
<text x="58" y="284.9" font-family="Liberation Serif,serif" font-size="9.5" text-anchor="end" fill="#222">40</text>
<rect x="60.5" y="281.1" width="3.5" height="1" fill="#333"/>
<rect x="60.5" y="199.5" width="3.5" height="1" fill="#333"/>
<text x="559.5" y="70.5" font-family="Liberation Serif,serif" font-size="9.5" text-anchor="end" fill="#222">175</text>
<rect x="560.5" y="66.7" width="3.5" height="1" fill="#333"/>
<text x="559.5" y="82.1" font-family="Liberation Serif,serif" font-size="9.5" text-anchor="end" fill="#222">150</text>
<rect x="560.5" y="78.3" width="3.5" height="1" fill="#333"/>
<text x="559.5" y="93.7" font-family="Liberation Serif,serif" font-size="9.5" text-anchor="end" fill="#222">125</text>
<rect x="560.5" y="89.9" width="3.5" height="1" fill="#333"/>
<text x="559.5" y="105.3" font-family="Liberation Serif,serif" font-size="9.5" text-anchor="end" fill="#222">100</text>
<rect x="560.5" y="101.5" width="3.5" height="1" fill="#333"/>
<text x="559.5" y="116.9" font-family="Liberation Serif,serif" font-size="9.5" text-anchor="end" fill="#222">75</text>
<rect x="560.5" y="113.1" width="3.5" height="1" fill="#333"/>
<text x="559.5" y="128.5" font-family="Liberation Serif,serif" font-size="9.5" text-anchor="end" fill="#222">50</text>
<rect x="560.5" y="124.7" width="3.5" height="1" fill="#333"/>
<text x="559.5" y="140.1" font-family="Liberation Serif,serif" font-size="9.5" text-anchor="end" fill="#222">25</text>
<rect x="560.5" y="136.3" width="3.5" height="1" fill="#333"/>
<text x="559.5" y="151.7" font-family="Liberation Serif,serif" font-size="9.5" text-anchor="end" fill="#222">0</text>
<rect x="560.5" y="147.9" width="3.5" height="1" fill="#333"/>
<text x="559.5" y="163.3" font-family="Liberation Serif,serif" font-size="9.5" text-anchor="end" fill="#222">25</text>
<rect x="560.5" y="159.5" width="3.5" height="1" fill="#333"/>
<text x="559.5" y="174.9" font-family="Liberation Serif,serif" font-size="9.5" text-anchor="end" fill="#222">50</text>
<rect x="560.5" y="171.1" width="3.5" height="1" fill="#333"/>
<text x="559.5" y="186.5" font-family="Liberation Serif,serif" font-size="9.5" text-anchor="end" fill="#222">75</text>
<rect x="560.5" y="182.7" width="3.5" height="1" fill="#333"/>
<text x="558" y="217.2" font-family="Liberation Serif,serif" font-size="9.5" text-anchor="end" fill="#222">90</text>
<rect x="560.5" y="213.3" width="3.5" height="1" fill="#333"/>
<text x="558" y="230.8" font-family="Liberation Serif,serif" font-size="9.5" text-anchor="end" fill="#222">80</text>
<rect x="560.5" y="226.9" width="3.5" height="1" fill="#333"/>
<text x="558" y="244.3" font-family="Liberation Serif,serif" font-size="9.5" text-anchor="end" fill="#222">70</text>
<rect x="560.5" y="240.4" width="3.5" height="1" fill="#333"/>
<text x="558" y="257.9" font-family="Liberation Serif,serif" font-size="9.5" text-anchor="end" fill="#222">60</text>
<rect x="560.5" y="254" width="3.5" height="1" fill="#333"/>
<text x="558" y="271.4" font-family="Liberation Serif,serif" font-size="9.5" text-anchor="end" fill="#222">50</text>
<rect x="560.5" y="267.5" width="3.5" height="1" fill="#333"/>
<text x="558" y="284.9" font-family="Liberation Serif,serif" font-size="9.5" text-anchor="end" fill="#222">40</text>
<rect x="560.5" y="281.1" width="3.5" height="1" fill="#333"/>
<rect x="560.5" y="199.5" width="3.5" height="1" fill="#333"/>
<clipPath id="m0"><rect x="64" y="197.5" width="424" height="96.5"/></clipPath>
<g clip-path="url(#m0)"><rect x="64" y="197.5" width="424" height="96.5" fill="#000"/>
<g filter="url(#fb)"><rect x="54" y="190" width="444" height="112" fill="#000"/>
<rect x="54" y="197" width="444" height="28" fill="#4c4c4c"/>
<rect x="54" y="226.5" width="444" height="11" fill="#e0e0e0"/>
<rect x="54" y="238" width="444" height="9" fill="#5c5c5c"/>
<rect x="54" y="268" width="444" height="8" fill="#999999"/>
<rect x="54" y="276" width="444" height="19" fill="#d6d6d6"/>
</g>
<g filter="url(#fr)"><rect x="54" y="190" width="444" height="112" fill="#000"/>
<rect x="54" y="244" width="444" height="2" fill="#8c8c8c"/>
<rect x="54" y="246" width="444" height="2" fill="#a6a6a6"/>
<rect x="54" y="248" width="444" height="2" fill="#bfbfbf"/>
<rect x="54" y="250" width="444" height="2" fill="#d6d6d6"/>
<rect x="54" y="252" width="444" height="2" fill="#e8e8e8"/>
<rect x="54" y="254" width="444" height="8" fill="#f7f7f7"/>
<rect x="54" y="262" width="444" height="2" fill="#e8e8e8"/>
<rect x="54" y="264" width="444" height="2" fill="#d1d1d1"/>
<rect x="54" y="266" width="444" height="2" fill="#bdbdbd"/>
<rect x="54" y="268" width="444" height="2" fill="#adadad"/>
<rect x="54" y="270" width="444" height="10" fill="#9e9e9e"/>
</g>
<g filter="url(#fx)"><rect x="54" y="190" width="444" height="112" fill="#000"/>
<rect x="54" y="270" width="444" height="8" fill="#666666"/>
<rect x="54" y="278" width="444" height="6" fill="#808080"/>
<rect x="54" y="284" width="444" height="12" fill="#a3a3a3"/>
</g>
<rect x="64" y="259" width="424" height="1.4" fill="#f0b8b8" opacity="0.9"/>
</g>
<clipPath id="m500"><rect x="564" y="197.5" width="424" height="96.5"/></clipPath>
<g clip-path="url(#m500)"><rect x="564" y="197.5" width="424" height="96.5" fill="#000"/>
<g filter="url(#fb)"><rect x="554" y="190" width="444" height="112" fill="#000"/>
<rect x="554" y="197" width="444" height="28" fill="#4c4c4c"/>
<rect x="554" y="228" width="444" height="14" fill="#d6d6d6"/>
<rect x="554" y="268" width="444" height="8" fill="#4c4c4c"/>
<rect x="554" y="276" width="444" height="12" fill="#808080"/>
<rect x="554" y="288" width="444" height="7" fill="#e6e6e6"/>
</g>
<g filter="url(#fr)"><rect x="554" y="190" width="444" height="112" fill="#000"/>
<rect x="554" y="243" width="444" height="1" fill="#cccccc"/>
<rect x="554" y="244" width="444" height="18" fill="#fafafa"/>
<rect x="554" y="262" width="444" height="2" fill="#e6e6e6"/>
<rect x="554" y="264" width="444" height="2" fill="#c7c7c7"/>
<rect x="554" y="266" width="444" height="2" fill="#a8a8a8"/>
<rect x="554" y="268" width="444" height="2" fill="#949494"/>
<rect x="554" y="226" width="444" height="7" fill="#8b8b8b"/>
</g>
<g filter="url(#fx)"><rect x="554" y="190" width="444" height="112" fill="#000"/>
<rect x="554" y="225" width="444" height="9" fill="#666666"/>
<rect x="554" y="272" width="444" height="8" fill="#4c4c4c"/>
<rect x="554" y="280" width="444" height="14" fill="#6b6b6b"/>
<ellipse cx="615" cy="294" rx="14.95" ry="14" fill="#cccccc"/>
<ellipse cx="615" cy="296" rx="5.8500000000000005" ry="3.5" fill="#ffffff"/>
<ellipse cx="681" cy="294" rx="9.2" ry="14" fill="#cccccc"/>
<ellipse cx="681" cy="296" rx="3.6" ry="3.5" fill="#ffffff"/>
<ellipse cx="757" cy="294" rx="16.099999999999998" ry="14" fill="#bfbfbf"/>
<ellipse cx="757" cy="296" rx="6.3" ry="3.5" fill="#ffffff"/>
<ellipse cx="775" cy="294" rx="11.5" ry="14" fill="#bfbfbf"/>
<ellipse cx="775" cy="296" rx="4.5" ry="3.5" fill="#ffffff"/>
<ellipse cx="813" cy="294" rx="8.049999999999999" ry="14" fill="#b3b3b3"/>
<ellipse cx="813" cy="296" rx="3.15" ry="3.5" fill="#ffffff"/>
<ellipse cx="879" cy="294" rx="11.5" ry="14" fill="#cccccc"/>
<ellipse cx="879" cy="296" rx="4.5" ry="3.5" fill="#ffffff"/>
<ellipse cx="951" cy="294" rx="18.4" ry="14" fill="#d9d9d9"/>
<ellipse cx="951" cy="296" rx="7.2" ry="3.5" fill="#ffffff"/>
<ellipse cx="935" cy="294" rx="10.35" ry="14" fill="#cccccc"/>
<ellipse cx="935" cy="296" rx="4.05" ry="3.5" fill="#ffffff"/>
<ellipse cx="590" cy="294" rx="4.6" ry="14" fill="#808080"/>
<ellipse cx="640" cy="294" rx="4.6" ry="14" fill="#808080"/>
<ellipse cx="720" cy="294" rx="4.6" ry="14" fill="#808080"/>
<ellipse cx="840" cy="294" rx="4.6" ry="14" fill="#808080"/>
<ellipse cx="905" cy="294" rx="4.6" ry="14" fill="#808080"/>
</g>
<rect x="564" y="260" width="424" height="1.4" fill="#f0b8b8" opacity="0.9"/>
</g>
<rect x="74" y="297" width="30" height="97" fill="#f0f0f0"/>
<rect x="103.7" y="297" width="896.3" height="98" fill="#000"/>
<text x="97.5" y="306.7" font-family="Liberation Serif,serif" font-size="9.5" text-anchor="end" fill="#222">140</text>
<rect x="100" y="302.8" width="3" height="1" fill="#333"/>
<text x="97.5" y="319.8" font-family="Liberation Serif,serif" font-size="9.5" text-anchor="end" fill="#222">120</text>
<rect x="100" y="315.9" width="3" height="1" fill="#333"/>
<text x="97.5" y="332.8" font-family="Liberation Serif,serif" font-size="9.5" text-anchor="end" fill="#222">100</text>
<rect x="100" y="328.9" width="3" height="1" fill="#333"/>
<text x="97.5" y="345.9" font-family="Liberation Serif,serif" font-size="9.5" text-anchor="end" fill="#222">80</text>
<rect x="100" y="342" width="3" height="1" fill="#333"/>
<text x="97.5" y="358.9" font-family="Liberation Serif,serif" font-size="9.5" text-anchor="end" fill="#222">60</text>
<rect x="100" y="355" width="3" height="1" fill="#333"/>
<text x="97.5" y="371.9" font-family="Liberation Serif,serif" font-size="9.5" text-anchor="end" fill="#222">40</text>
<rect x="100" y="368.1" width="3" height="1" fill="#333"/>
<text x="97.5" y="385" font-family="Liberation Serif,serif" font-size="9.5" text-anchor="end" fill="#222">20</text>
<rect x="100" y="381.1" width="3" height="1" fill="#333"/>
<clipPath id="t1"><rect x="103.7" y="297" width="896.3" height="98"/></clipPath><g clip-path="url(#t1)">
<polyline points="104,332.5 104.5,355.4 104.3,357.2 108.2,359.8 112.1,362.4 116,362.8 119.8,364.1 123.7,364.8 127.6,367.1 131.5,367 135.4,367.8 136,368.3 137.2,362.3 138.4,349.2 139.6,340.7 140.8,336.3 142,336.9 143.5,338.6 145,338.8 147,334.9 149,332.6 151,336.3 153,341.7 155,347.4 156.5,350.4 158,350.4 160,349.5 162,352.1 165.8,355.2 169.7,356.7 173.5,358.7 177.4,360.1 181.2,361.6 185,362.5 188.9,363.7 192.7,364.6 196.6,366 200.4,367.8 201,368.6 202.2,363.3 203.4,349.9 204.6,340.1 205.8,335.4 207,337.1 208.5,339.6 210,337.3 212,334.5 214,331.5 216,335.8 218,341.5 220,346.3 221.5,350.1 223,348.6 225,349.7 227,350.7 231.1,352.9 235.3,356.8 239.4,357.7 243.5,360.5 247.7,362.1 251.8,364 256,363.5 260.1,365.8 264.2,367.3 268.4,367.5 269,368.8 270.2,362.5 271.4,350.6 272.6,340.6 273.8,337.6 275,339.5 276.5,342.2 278,340.5 280,336.3 282,335.6 284,338.3 286,343.7 288,349.5 289.5,352.5 291,350.8 293,351 295,353.7 298.5,355.5 302.1,357.1 305.6,359.4 309.2,362 312.7,363 316.3,364 319.8,365.9 323.4,367 326.9,367 330.5,367.3 331,369.9 332.2,363.1 333.4,350.5 334.6,341.3 335.8,336.3 337,338.4 338.5,341.5 340,339.1 342,335.4 344,333.4 346,336.6 348,342.4 350,348.4 351.5,351.8 353,351 355,350 357,352 360.7,355.8 364.5,357.7 368.2,358.5 372,360.6 375.7,361.8 379.5,363.6 383.2,364.9 386.9,366.4 390.7,366.7 394.4,368.6 395,369.3 396.2,363.7 397.4,350.1 398.6,340.8 399.8,336.2 401,336.5 402.5,339.7 404,338.8 406,334.3 408,332 410,335.9 412,342.3 414,347.6 415.5,349.7 417,349.9 419,349.6 421,351.1 424.9,354.5 428.9,356.4 432.8,357.6 436.8,360.5 440.7,362.7 444.6,364.2 448.6,364.9 452.5,365.9 456.5,366.8 460.4,367.1 461,369.6 462.2,363.3 463.4,349.8 464.6,340.1 465.8,338.7 467,339.5 468.5,342.8 470,341.1 472,338.3 474,335.4 476,339.1 478,344.2 480,351.1 481.5,353.7 483,352.7 485,352.2 487,353.9 491,355.4 495,357.6 499,360.2 503,360.6 506.9,362.8 510.9,364.3 514.9,364.4 518.9,365.7 522.9,367.1 526.9,368.4 527.5,368.8 528.7,363.9 529.9,350.7 531.1,340.2 532.3,337.6 533.5,338.8 535,342.1 536.5,339.4 538.5,337 540.5,334.6 542.5,337.6 544.5,343.2 546.5,350.2 548,353.4 549.5,351 551.5,352.4 553.5,353.4 557.6,356.5 561.7,357.3 565.8,359.6 569.9,361.1 573.9,361.9 578,363.8 582.1,366 586.2,366.1 590.3,367.1 594.4,366.8 595,369.6 596.2,363.9 597.4,350.1 598.6,341.4 599.8,337.6 601,338.6 602.5,341.3 604,340.3 606,337.8 608,333.9 610,337.7 612,343.8 614,349.8 615.5,352.5 617,350.7 619,351 621,352.9 625.1,355.7 629.2,358.8 633.3,360.7 637.4,361.1 641.4,363.7 645.5,364.3 649.6,363.9 653.7,365.9 657.8,367.7 661.9,368 662.5,368.2 663.7,363 664.9,349.5 666.1,341 667.3,337.7 668.5,339.6 670,342 671.5,340.1 673.5,336.4 675.5,333.8 677.5,337.8 679.5,343.2 681.5,350.1 683,352.8 684.5,351 686.5,351.4 688.5,354.1 692.6,355.4 696.7,357.2 700.8,359.2 704.9,361.9 708.9,362.9 713,364.1 717.1,365.4 721.2,365.2 725.3,367.2 729.4,368.4 730,368.9 731.2,363.7 732.4,349.9 733.6,340.7 734.8,337.1 736,338.3 737.5,341.1 739,338.2 741,336 743,333.5 745,337.7 747,342.4 749,348.8 750.5,351.1 752,350.3 754,350.9 756,352.9 759.6,354.4 763.2,357 766.8,359.6 770.4,360.9 774,362.6 777.6,364.1 781.2,365.2 784.8,366.4 788.4,367.7 792,367.8 792.5,368.9 793.7,363.2 794.9,350.4 796.1,340.4 797.3,334.9 798.5,336 800,338.2 801.5,337.2 803.5,334 805.5,331.4 807.5,336.3 809.5,340.6 811.5,346.6 813,349.8 814.5,349.3 816.5,348.2 818.5,349.7 822.6,354.6 826.7,356.9 830.8,357.9 834.9,360.2 838.9,361.4 843,363.7 847.1,364.8 851.2,365.2 855.3,366.1 859.4,368.5 860,368.9 861.2,363.8 862.4,350.3 863.6,341.3 864.8,337.1 866,338.8 867.5,341.7 869,339.1 871,336.4 873,334.5 875,337.6 877,342.8 879,349.9 880.5,353.1 882,350.6 884,351.5 886,353.1 889.8,355.8 893.7,357.3 897.5,359.3 901.4,360.6 905.2,362.3 909,364.3 912.9,364.9 916.7,366.2 920.6,367.7 924.4,368.2 925,369.6 926.2,362.5 927.4,349.2 928.6,340.8 929.8,338.3 931,340 932.5,341.5 934,340.5 936,337.7 938,335.2 940,338 942,344.2 944,349.9 945.5,353 947,352.2 949,352.5 951,353.8 955.1,356.8 959.2,356.6 963.3,359.2 967.4,360.8 971.4,362.1 975.5,363.8 979.6,365.1 983.7,365.5 987.8,366.9 991.9,367 992.5,369 993.7,363.1 994.9,349.4 996.1,339.8 997.3,336.2 998.5,337.4 1000,339.7" fill="none" stroke="#f00" stroke-width="1.2"/>
<polyline points="104,337.1 104.5,356 104.3,358.1 108.2,360.2 112.1,361.6 116,363.5 119.8,364.4 123.7,365.4 127.6,366.9 131.5,366.8 135.4,367.8 136,368.8 137.2,362.5 138.4,349.1 139.6,341.2 140.8,336.5 142,338.1 143.5,340.3 145,338.8 147,337.7 149,336.1 151,337.9 153,341.4 155,347.8 156.5,351.9 158,351 160,350.7 162,352.2 165.8,354.6 169.7,357.1 173.5,358.4 177.4,360.6 181.2,362 185,363.6 188.9,364.6 192.7,366.3 196.6,367.3 200.4,368.1 201,368.7 202.2,362.4 203.4,349.6 204.6,340 205.8,335.9 207,337.3 208.5,339.8 210,338.1 212,335.9 214,334.9 216,337.3 218,341.5 220,347.3 221.5,350.6 223,351.5 225,351.1 227,350.9 231.1,353.6 235.3,356.6 239.4,358.5 243.5,360.3 247.7,362.5 251.8,364.1 256,364.2 260.1,365.5 264.2,366.9 268.4,367.6 269,368.8 270.2,362.6 271.4,350.8 272.6,341.4 273.8,338.9 275,339.8 276.5,341.9 278,340.8 280,338.2 282,338.5 284,339.1 286,344.6 288,350.8 289.5,353.1 291,353.2 293,353.1 295,354.4 298.5,356.9 302.1,358.6 305.6,360.1 309.2,362.2 312.7,363.7 316.3,364.5 319.8,365.7 323.4,366.7 326.9,366.4 330.5,367.7 331,369.1 332.2,363.2 333.4,350.8 334.6,341.4 335.8,336.7 337,337.8 338.5,342 340,339.3 342,337.2 344,337 346,339.9 348,343.7 350,349.5 351.5,353.5 353,352.3 355,352.2 357,352 360.7,355.5 364.5,357.4 368.2,358.9 372,361.1 375.7,362 379.5,364.8 383.2,365.3 386.9,366.1 390.7,366.9 394.4,368.4 395,369.4 396.2,363.4 397.4,349.4 398.6,340.5 399.8,337.1 401,336.6 402.5,341.1 404,339.4 406,336.3 408,335 410,338.5 412,342.3 414,347.8 415.5,351.7 417,350.5 419,350.1 421,352.3 424.9,355.2 428.9,356.9 432.8,357.9 436.8,361.1 440.7,363.2 444.6,364.7 448.6,365 452.5,366.6 456.5,367.2 460.4,367.7 461,368.6 462.2,362.2 463.4,349.3 464.6,340.5 465.8,338.8 467,341.3 468.5,343.5 470,341.5 472,340.3 474,338.1 476,340.2 478,344.7 480,350.6 481.5,353.6 483,353.5 485,353.9 487,354.4 491,356 495,357.5 499,360 503,361.9 506.9,362.1 510.9,364.7 514.9,365.5 518.9,365.4 522.9,367.1 526.9,368.3 527.5,369.5 528.7,362.8 529.9,350 531.1,339.9 532.3,338.9 533.5,339.7 535,342.3 536.5,340.2 538.5,338.5 540.5,337.9 542.5,340.3 544.5,344.6 546.5,349.6 548,353.5 549.5,352.2 551.5,353.5 553.5,354 557.6,356.4 561.7,358 565.8,360.6 569.9,361.1 573.9,363.6 578,363.9 582.1,365.7 586.2,365.8 590.3,366.8 594.4,368.1 595,369.3 596.2,362.5 597.4,350 598.6,340.6 599.8,337.2 601,339.1 602.5,341.9 604,340.9 606,339.8 608,337.4 610,339 612,344 614,349.5 615.5,353.4 617,352.7 619,352.7 621,354 625.1,355.7 629.2,358.4 633.3,360.6 637.4,362.6 641.4,363.2 645.5,365.2 649.6,365.4 653.7,366.1 657.8,368.2 661.9,368.6 662.5,368.7 663.7,364.1 664.9,350.6 666.1,340.9 667.3,338.7 668.5,340.1 670,342.1 671.5,341.2 673.5,338.4 675.5,337.6 677.5,340.8 679.5,344.3 681.5,350.5 683,353 684.5,353.5 686.5,352.6 688.5,353.6 692.6,355.8 696.7,358.1 700.8,359.6 704.9,361.8 708.9,363 713,364.1 717.1,364.9 721.2,366.4 725.3,366.9 729.4,369 730,368.2 731.2,363.6 732.4,350 733.6,341 734.8,337 736,337.5 737.5,341.7 739,340.5 741,337.3 743,337.7 745,339.6 747,343.5 749,348.8 750.5,352 752,351.2 754,352 756,352.8 759.6,354.5 763.2,358 766.8,359.5 770.4,361 774,363.6 777.6,364.2 781.2,365.6 784.8,366.3 788.4,367.6 792,368.4 792.5,368.9 793.7,363.1 794.9,350.4 796.1,341.4 797.3,335.3 798.5,337.3 800,338.9 801.5,338.8 803.5,336.1 805.5,334.6 807.5,338.6 809.5,342.1 811.5,347.7 813,350.9 814.5,350.1 816.5,350.5 818.5,350.9 822.6,354.3 826.7,356.8 830.8,359 834.9,360.2 838.9,363 843,363.5 847.1,365.7 851.2,366.2 855.3,366.2 859.4,367.8 860,368.4 861.2,363.1 862.4,349.5 863.6,340.8 864.8,338.1 866,338.6 867.5,341.9 869,340.9 871,338.8 873,337.5 875,339.7 877,343.7 879,349.5 880.5,354 882,351.9 884,353.1 886,353.5 889.8,355.9 893.7,357.8 897.5,359.2 901.4,362 905.2,363.2 909,363.6 912.9,366.3 916.7,366 920.6,367.3 924.4,367.5 925,368.7 926.2,363.1 927.4,349.1 928.6,340.5 929.8,337.9 931,340.3 932.5,341.4 934,341.5 936,339.8 938,338.1 940,339.9 942,344.1 944,349.8 945.5,354.4 947,352.7 949,352.5 951,354.2 955.1,356.4 959.2,357.1 963.3,360.7 967.4,361.7 971.4,363.5 975.5,364.3 979.6,364.4 983.7,366.9 987.8,366.7 991.9,367.7 992.5,368.4 993.7,362.5 994.9,350 996.1,340.1 997.3,336.3 998.5,337.6 1000,339.8" fill="none" stroke="#00a000" stroke-width="1.2"/>
<polyline points="104,332.5 104.5,355.4 104.3,357.2 108.2,359.8 112.1,362.4 116,362.8 119.8,364.1 123.7,364.8 127.6,367.1 131.5,367 135.4,367.8 136,368.3 137.2,362.3 138.4,349.2 139.6,340.7 140.8,336.3 142,336.9 143.5,338.6 145,338.8 147,334.9 149,332.6 151,336.3 153,341.7 155,347.4 156.5,350.4 158,350.4 160,349.5 162,352.1 165.8,355.2 169.7,356.7 173.5,358.7 177.4,360.1 181.2,361.6 185,362.5 188.9,363.7 192.7,364.6 196.6,366 200.4,367.8 201,368.6 202.2,363.3 203.4,349.9 204.6,340.1 205.8,335.4 207,337.1 208.5,339.6 210,337.3 212,334.5 214,331.5 216,335.8 218,341.5 220,346.3 221.5,350.1 223,348.6 225,349.7 227,350.7 231.1,352.9 235.3,356.8 239.4,357.7 243.5,360.5 247.7,362.1 251.8,364 256,363.5 260.1,365.8 264.2,367.3 268.4,367.5 269,368.8 270.2,362.5 271.4,350.6 272.6,340.6 273.8,337.6 275,339.5 276.5,342.2 278,340.5 280,336.3 282,335.6 284,338.3 286,343.7 288,349.5 289.5,352.5 291,350.8 293,351 295,353.7 298.5,355.5 302.1,357.1 305.6,359.4 309.2,362 312.7,363 316.3,364 319.8,365.9 323.4,367 326.9,367 330.5,367.3 331,369.9 332.2,363.1 333.4,350.5 334.6,341.3 335.8,336.3 337,338.4 338.5,341.5 340,339.1 342,335.4 344,333.4 346,336.6 348,342.4 350,348.4 351.5,351.8 353,351 355,350 357,352 360.7,355.8 364.5,357.7 368.2,358.5 372,360.6 375.7,361.8 379.5,363.6 383.2,364.9 386.9,366.4 390.7,366.7 394.4,368.6 395,369.3 396.2,363.7 397.4,350.1 398.6,340.8 399.8,336.2 401,336.5 402.5,339.7 404,338.8 406,334.3 408,332 410,335.9 412,342.3 414,347.6 415.5,349.7 417,349.9 419,349.6 421,351.1 424.9,354.5 428.9,356.4 432.8,357.6 436.8,360.5 440.7,362.7 444.6,364.2 448.6,364.9 452.5,365.9 456.5,366.8 460.4,367.1 461,369.6 462.2,363.3 463.4,349.8 464.6,340.1 465.8,338.7 467,339.5 468.5,342.8 470,341.1 472,338.3 474,335.4 476,339.1 478,344.2 480,351.1 481.5,353.7 483,352.7 485,352.2 487,353.9 491,355.4 495,357.6 499,360.2 503,360.6 506.9,362.8 510.9,364.3 514.9,364.4 518.9,365.7 522.9,367.1 526.9,368.4 527.5,368.8 528.7,363.9 529.9,350.7 531.1,340.2 532.3,337.6 533.5,338.8 535,342.1 536.5,339.4 538.5,337 540.5,334.6 542.5,337.6 544.5,343.2 546.5,350.2 548,353.4 549.5,351 551.5,352.4 553.5,353.4 557.6,356.5 561.7,357.3 565.8,359.6 569.9,361.1 573.9,361.9 578,363.8 582.1,366 586.2,366.1 590.3,367.1 594.4,366.8 595,369.6 596.2,363.9 597.4,350.1 598.6,341.4 599.8,337.6 601,338.6 602.5,341.3 604,340.3 606,337.8 608,333.9 610,337.7 612,343.8 614,349.8 615.5,352.5 617,350.7 619,351 621,352.9 625.1,355.7 629.2,358.8 633.3,360.7 637.4,361.1 641.4,363.7 645.5,364.3 649.6,363.9 653.7,365.9 657.8,367.7 661.9,368 662.5,368.2 663.7,363 664.9,349.5 666.1,341 667.3,337.7 668.5,339.6 670,342 671.5,340.1 673.5,336.4 675.5,333.8 677.5,337.8 679.5,343.2 681.5,350.1 683,352.8 684.5,351 686.5,351.4 688.5,354.1 692.6,355.4 696.7,357.2 700.8,359.2 704.9,361.9 708.9,362.9 713,364.1 717.1,365.4 721.2,365.2 725.3,367.2 729.4,368.4 730,368.9 731.2,363.7 732.4,349.9 733.6,340.7 734.8,337.1 736,338.3 737.5,341.1 739,338.2 741,336 743,333.5 745,337.7 747,342.4 749,348.8 750.5,351.1 752,350.3 754,350.9 756,352.9 759.6,354.4 763.2,357 766.8,359.6 770.4,360.9 774,362.6 777.6,364.1 781.2,365.2 784.8,366.4 788.4,367.7 792,367.8 792.5,368.9 793.7,363.2 794.9,350.4 796.1,340.4 797.3,334.9 798.5,336 800,338.2 801.5,337.2 803.5,334 805.5,331.4 807.5,336.3 809.5,340.6 811.5,346.6 813,349.8 814.5,349.3 816.5,348.2 818.5,349.7 822.6,354.6 826.7,356.9 830.8,357.9 834.9,360.2 838.9,361.4 843,363.7 847.1,364.8 851.2,365.2 855.3,366.1 859.4,368.5 860,368.9 861.2,363.8 862.4,350.3 863.6,341.3 864.8,337.1 866,338.8 867.5,341.7 869,339.1 871,336.4 873,334.5 875,337.6 877,342.8 879,349.9 880.5,353.1 882,350.6 884,351.5 886,353.1 889.8,355.8 893.7,357.3 897.5,359.3 901.4,360.6 905.2,362.3 909,364.3 912.9,364.9 916.7,366.2 920.6,367.7 924.4,368.2 925,369.6 926.2,362.5 927.4,349.2 928.6,340.8 929.8,338.3 931,340 932.5,341.5 934,340.5 936,337.7 938,335.2 940,338 942,344.2 944,349.9 945.5,353 947,352.2 949,352.5 951,353.8 955.1,356.8 959.2,356.6 963.3,359.2 967.4,360.8 971.4,362.1 975.5,363.8 979.6,365.1 983.7,365.5 987.8,366.9 991.9,367 992.5,369 993.7,363.1 994.9,349.4 996.1,339.8 997.3,336.2 998.5,337.4 1000,339.7" fill="none" stroke="#f00" stroke-width="1.1" stroke-dasharray="2.5 3.5"/>
<rect x="103.5" y="392.5" width="1" height="2.3" fill="#d8d000"/>
<rect x="163" y="392.5" width="1" height="2.3" fill="#d8d000"/>
<rect x="222.5" y="392.5" width="1" height="2.3" fill="#d8d000"/>
<rect x="282" y="392.5" width="1" height="2.3" fill="#d8d000"/>
<rect x="341.5" y="392.5" width="1" height="2.3" fill="#d8d000"/>
<rect x="401" y="392.5" width="1" height="2.3" fill="#d8d000"/>
<rect x="460.5" y="392.5" width="1" height="2.3" fill="#d8d000"/>
<rect x="520" y="392.5" width="1" height="2.3" fill="#d8d000"/>
<rect x="579.5" y="392.5" width="1" height="2.3" fill="#d8d000"/>
<rect x="639" y="392.5" width="1" height="2.3" fill="#d8d000"/>
<rect x="698.5" y="392.5" width="1" height="2.3" fill="#d8d000"/>
<rect x="758" y="392.5" width="1" height="2.3" fill="#d8d000"/>
<rect x="817.5" y="392.5" width="1" height="2.3" fill="#d8d000"/>
<rect x="877" y="392.5" width="1" height="2.3" fill="#d8d000"/>
<rect x="936.5" y="392.5" width="1" height="2.3" fill="#d8d000"/>
<rect x="996" y="392.5" width="1" height="2.3" fill="#d8d000"/>
</g>
<rect x="74" y="397" width="30" height="97" fill="#f0f0f0"/>
<rect x="103.7" y="397" width="722" height="87" fill="#000"/>
<rect x="217" y="397" width="36" height="87" fill="#5a5a5a"/>
<text x="97.5" y="407" font-family="Liberation Serif,serif" font-size="9.5" text-anchor="end" fill="#222">100</text>
<rect x="100" y="403.1" width="3" height="1" fill="#333"/>
<text x="97.5" y="419.6" font-family="Liberation Serif,serif" font-size="9.5" text-anchor="end" fill="#222">80</text>
<rect x="100" y="415.7" width="3" height="1" fill="#333"/>
<text x="97.5" y="432.2" font-family="Liberation Serif,serif" font-size="9.5" text-anchor="end" fill="#222">60</text>
<rect x="100" y="428.3" width="3" height="1" fill="#333"/>
<text x="97.5" y="444.8" font-family="Liberation Serif,serif" font-size="9.5" text-anchor="end" fill="#222">40</text>
<rect x="100" y="440.9" width="3" height="1" fill="#333"/>
<text x="97.5" y="457.4" font-family="Liberation Serif,serif" font-size="9.5" text-anchor="end" fill="#222">20</text>
<rect x="100" y="453.5" width="3" height="1" fill="#333"/>
<text x="97.5" y="470" font-family="Liberation Serif,serif" font-size="9.5" text-anchor="end" fill="#222">0</text>
<rect x="100" y="466.1" width="3" height="1" fill="#333"/>
<text x="97.5" y="482.6" font-family="Liberation Serif,serif" font-size="9.5" text-anchor="end" fill="#222">-20</text>
<rect x="100" y="478.7" width="3" height="1" fill="#333"/>
<clipPath id="t2"><rect x="103.7" y="397" width="722" height="87"/></clipPath><g clip-path="url(#t2)">
<polyline points="104,422.7 107,422.7 107,422.2 111,422.2 111,418.7 116,418.7 116,422.2 118,422.2 118,425.2 123,425.2 123,428.2 127,428.2 127,427.2 129,427.2 129,422.7 132,422.7 132,425.7 137,425.7 137,421.7 140,421.7 140,426.2 142,426.2 142,426.2 144,426.2 144,426.2 147,426.2 147,425.2 149,425.2 149,428.7 151,428.7 151,424.2 153,424.2 153,428.2 155,428.2 155,430.2 157,430.2 157,427.2 159,427.2 159,428.2 161,428.2 161,427.2 164,427.2 164,423.7 166,423.7 166,427.7 170,427.7 170,428.2 172,428.2 172,428.2 175,428.2 175,427.2 177,427.2 177,429.2 180,429.2 180,428.2 182,428.2 182,427.2 184,427.2 184,430.7 187,430.7 187,427.2 190,427.2 190,427.7 192,427.7 192,427.7 195,427.7 195,427.2 198,427.2 198,424.7 200,424.7 200,428.2 203,428.2 203,427.2 205,427.2 205,426.7 207,426.7 207,425.7 212,425.7 212,423.2 214,423.2 214,425.7 219,425.7 219,425.7 222,425.7 222,429.7 225,429.7 225,429.7 228,429.7 228,428.2 232,428.2 232,427.2 235,427.2 235,427.2 237,427.2 237,424.7 242,424.7 242,423.7 245,423.7 245,423.7 248,423.7 248,425.2 251,425.2 251,427.7 253,427.7 253,428.2 258,428.2 258,427.2 260,427.2 260,428.7 262,428.7 262,424.7 265,424.7 265,428.2 268,428.2 268,428.2 270,428.2 270,424.7 273,424.7 273,429.2 275,429.2 275,428.2 279,428.2 279,429.7 282,429.7 282,430.7 287,430.7 287,429.7 291,429.7 291,428.7 295,428.7 295,429.2 298,429.2 298,430.7 302,430.7 302,423.7 304,423.7 304,430.2 307,430.2 307,426.7 309,426.7 309,427.2 314,427.2 314,425.2 317,425.2 317,429.7 319,429.7 319,429.2 323,429.2 323,423.7 328,423.7 328,426.2 331,426.2 331,427.2 333,427.2 333,424.2 337,424.2 337,426.7 339,426.7 339,425.2 342,425.2 342,428.7 344,428.7 344,424.2 349,424.2 349,427.2 352,427.2 352,427.2 355,427.2 355,423.7 358,423.7 358,425.7 361,425.7 361,426.7 364,426.7 364,423.7 367,423.7 367,427.7 370,427.7 370,425.2 372,425.2 372,422.7 377,422.7 377,424.2 379,424.2 379,426.2 384,426.2 384,428.7 386,428.7 386,426.7 389,426.7 389,422.7 392,422.7 392,422.7 397,422.7 397,428.2 400,428.2 400,425.7 405,425.7 405,428.7 409,428.7 409,425.7 414,425.7 414,421.2 417,421.2 417,425.2 421,425.2 421,422.2 426,422.2 426,424.7 429,424.7 429,425.7 432,425.7 432,427.7 435,427.7 435,420.7 438,420.7 438,424.7 443,424.7 443,424.7 446,424.7 446,425.2 449,425.2 449,421.2 454,421.2 454,424.7 458,424.7 458,425.7 461,425.7 461,425.2 465,425.2 465,424.7 469,424.7 469,427.7 472,427.7 472,423.7 477,423.7 477,426.2 480,426.2 480,428.2 483,428.2 483,428.2 486,428.2 486,426.7 488,426.7 488,424.7 493,424.7 493,429.7 496,429.7 496,426.2 500,426.2 500,423.7 502,423.7 502,426.2 506,426.2 506,423.7 509,423.7 509,427.7 514,427.7 514,430.2 518,430.2 518,428.2 520,428.2 520,424.2 523,424.2 523,428.2 526,428.2 526,428.2 528,428.2 528,429.7 532,429.7 532,426.7 535,426.7 535,429.7 537,429.7 537,428.7 539,428.7 539,427.7 542,427.7 542,426.7 545,426.7 545,429.7 548,429.7 548,424.2 551,424.2 551,425.7 554,425.7 554,429.2 558,429.2 558,427.2 561,427.2 561,427.2 563,427.2 563,427.2 565,427.2 565,427.7 568,427.7 568,426.2 573,426.2 573,430.2 578,430.2 578,424.7 582,424.7 582,431.7 585,431.7 585,428.7 588,428.7 588,429.2 590,429.2 590,424.7 593,424.7 593,429.2 596,429.2 596,430.2 599,430.2 599,427.7 602,427.7 602,424.7 607,424.7 607,426.2 610,426.2 610,429.7 612,429.7 612,427.2 615,427.2 615,425.7 618,425.7 618,429.2 620,429.2 620,430.2 623,430.2 623,430.7 626,430.7 626,429.7 629,429.7 629,423.2 632,423.2 632,426.7 634,426.7 634,425.7 638,425.7 638,425.2 641,425.2 641,422.2 643,422.2 643,421.7 646,421.7 646,423.2 650,423.2 650,425.2 653,425.2 653,424.2 656,424.2 656,424.2 660,424.2 660,424.2 663,424.2 663,427.2 666,427.2 666,424.7 669,424.7 669,424.7 672,424.7 672,421.7 674,421.7 674,426.7 676,426.7 676,421.7 680,421.7 680,424.7 682,424.7 682,425.7 684,425.7 684,423.2 689,423.2 689,422.2 691,422.2 691,421.2 694,421.2 694,425.2 697,425.2 697,428.2 700,428.2 700,424.2 702,424.2 702,428.2 705,428.2 705,427.2 709,427.2 709,424.2 712,424.2 712,424.2 715,424.2 715,428.7 718,428.7 718,427.7 720,427.7 720,426.2 723,426.2 723,425.7 726,425.7 726,426.2 729,426.2 729,421.7 733,421.7 733,422.7 735,422.7 735,424.7 738,424.7 738,426.2 742,426.2 742,427.7 744,427.7 744,420.7 747,420.7 747,426.7 750,426.7 750,420.7 754,420.7 754,427.7 756,427.7 756,423.2 759,423.2 759,421.7 762,421.7 762,423.2 767,423.2 767,423.2 770,423.2 770,425.2 774,425.2 774,422.2 777,422.2 777,427.2 782,427.2 782,428.7 785,428.7 785,424.2 789,424.2 789,426.2 792,426.2 792,423.7 796,423.7 796,427.7 799,427.7 799,424.2 801,424.2 801,422.7 805,422.7 805,426.7 808,426.7 808,428.2 811,428.2 811,423.2 814,423.2 814,430.2 819,430.2 819,427.2 821,427.2 821,429.2 824,429.2 824,429.2 826,429.2" fill="none" stroke="#ffb6c1" stroke-width="0.9"/>
<polyline points="104.4,423.4 107.4,423.4 107.4,422.9 111.4,422.9 111.4,419.4 116.4,419.4 116.4,422.9 118.4,422.9 118.4,425.9 123.4,425.9 123.4,428.9 127.4,428.9 127.4,427.9 129.4,427.9 129.4,423.4 132.4,423.4 132.4,426.4 137.4,426.4 137.4,422.4 140.4,422.4 140.4,426.9 142.4,426.9 142.4,426.9 144.4,426.9 144.4,426.9 147.4,426.9 147.4,425.9 149.4,425.9 149.4,429.4 151.4,429.4 151.4,424.9 153.4,424.9 153.4,428.9 155.4,428.9 155.4,430.9 157.4,430.9 157.4,427.9 159.4,427.9 159.4,428.9 161.4,428.9 161.4,427.9 164.4,427.9 164.4,424.4 166.4,424.4 166.4,428.4 170.4,428.4 170.4,428.9 172.4,428.9 172.4,428.9 175.4,428.9 175.4,427.9 177.4,427.9 177.4,429.9 180.4,429.9 180.4,428.9 182.4,428.9 182.4,427.9 184.4,427.9 184.4,431.4 187.4,431.4 187.4,427.9 190.4,427.9 190.4,428.4 192.4,428.4 192.4,428.4 195.4,428.4 195.4,427.9 198.4,427.9 198.4,425.4 200.4,425.4 200.4,428.9 203.4,428.9 203.4,427.9 205.4,427.9 205.4,427.4 207.4,427.4 207.4,426.4 212.4,426.4 212.4,423.9 214.4,423.9 214.4,426.4 219.4,426.4 219.4,426.4 222.4,426.4 222.4,430.4 225.4,430.4 225.4,430.4 228.4,430.4 228.4,428.9 232.4,428.9 232.4,427.9 235.4,427.9 235.4,427.9 237.4,427.9 237.4,425.4 242.4,425.4 242.4,424.4 245.4,424.4 245.4,424.4 248.4,424.4 248.4,425.9 251.4,425.9 251.4,428.4 253.4,428.4 253.4,428.9 258.4,428.9 258.4,427.9 260.4,427.9 260.4,429.4 262.4,429.4 262.4,425.4 265.4,425.4 265.4,428.9 268.4,428.9 268.4,428.9 270.4,428.9 270.4,425.4 273.4,425.4 273.4,429.9 275.4,429.9 275.4,428.9 279.4,428.9 279.4,430.4 282.4,430.4 282.4,431.4 287.4,431.4 287.4,430.4 291.4,430.4 291.4,429.4 295.4,429.4 295.4,429.9 298.4,429.9 298.4,431.4 302.4,431.4 302.4,424.4 304.4,424.4 304.4,430.9 307.4,430.9 307.4,427.4 309.4,427.4 309.4,427.9 314.4,427.9 314.4,425.9 317.4,425.9 317.4,430.4 319.4,430.4 319.4,429.9 323.4,429.9 323.4,424.4 328.4,424.4 328.4,426.9 331.4,426.9 331.4,427.9 333.4,427.9 333.4,424.9 337.4,424.9 337.4,427.4 339.4,427.4 339.4,425.9 342.4,425.9 342.4,429.4 344.4,429.4 344.4,424.9 349.4,424.9 349.4,427.9 352.4,427.9 352.4,427.9 355.4,427.9 355.4,424.4 358.4,424.4 358.4,426.4 361.4,426.4 361.4,427.4 364.4,427.4 364.4,424.4 367.4,424.4 367.4,428.4 370.4,428.4 370.4,425.9 372.4,425.9 372.4,423.4 377.4,423.4 377.4,424.9 379.4,424.9 379.4,426.9 384.4,426.9 384.4,429.4 386.4,429.4 386.4,427.4 389.4,427.4 389.4,423.4 392.4,423.4 392.4,423.4 397.4,423.4 397.4,428.9 400.4,428.9 400.4,426.4 405.4,426.4 405.4,429.4 409.4,429.4 409.4,426.4 414.4,426.4 414.4,421.9 417.4,421.9 417.4,425.9 421.4,425.9 421.4,422.9 426.4,422.9 426.4,425.4 429.4,425.4 429.4,426.4 432.4,426.4 432.4,428.4 435.4,428.4 435.4,421.4 438.4,421.4 438.4,425.4 443.4,425.4 443.4,425.4 446.4,425.4 446.4,425.9 449.4,425.9 449.4,421.9 454.4,421.9 454.4,425.4 458.4,425.4 458.4,426.4 461.4,426.4 461.4,425.9 465.4,425.9 465.4,425.4 469.4,425.4 469.4,428.4 472.4,428.4 472.4,424.4 477.4,424.4 477.4,426.9 480.4,426.9 480.4,428.9 483.4,428.9 483.4,428.9 486.4,428.9 486.4,427.4 488.4,427.4 488.4,425.4 493.4,425.4 493.4,430.4 496.4,430.4 496.4,426.9 500.4,426.9 500.4,424.4 502.4,424.4 502.4,426.9 506.4,426.9 506.4,424.4 509.4,424.4 509.4,428.4 514.4,428.4 514.4,430.9 518.4,430.9 518.4,428.9 520.4,428.9 520.4,424.9 523.4,424.9 523.4,428.9 526.4,428.9 526.4,428.9 528.4,428.9 528.4,430.4 532.4,430.4 532.4,427.4 535.4,427.4 535.4,430.4 537.4,430.4 537.4,429.4 539.4,429.4 539.4,428.4 542.4,428.4 542.4,427.4 545.4,427.4 545.4,430.4 548.4,430.4 548.4,424.9 551.4,424.9 551.4,426.4 554.4,426.4 554.4,429.9 558.4,429.9 558.4,427.9 561.4,427.9 561.4,427.9 563.4,427.9 563.4,427.9 565.4,427.9 565.4,428.4 568.4,428.4 568.4,426.9 573.4,426.9 573.4,430.9 578.4,430.9 578.4,425.4 582.4,425.4 582.4,432.4 585.4,432.4 585.4,429.4 588.4,429.4 588.4,429.9 590.4,429.9 590.4,425.4 593.4,425.4 593.4,429.9 596.4,429.9 596.4,430.9 599.4,430.9 599.4,428.4 602.4,428.4 602.4,425.4 607.4,425.4 607.4,426.9 610.4,426.9 610.4,430.4 612.4,430.4 612.4,427.9 615.4,427.9 615.4,426.4 618.4,426.4 618.4,429.9 620.4,429.9 620.4,430.9 623.4,430.9 623.4,431.4 626.4,431.4 626.4,430.4 629.4,430.4 629.4,423.9 632.4,423.9 632.4,427.4 634.4,427.4 634.4,426.4 638.4,426.4 638.4,425.9 641.4,425.9 641.4,422.9 643.4,422.9 643.4,422.4 646.4,422.4 646.4,423.9 650.4,423.9 650.4,425.9 653.4,425.9 653.4,424.9 656.4,424.9 656.4,424.9 660.4,424.9 660.4,424.9 663.4,424.9 663.4,427.9 666.4,427.9 666.4,425.4 669.4,425.4 669.4,425.4 672.4,425.4 672.4,422.4 674.4,422.4 674.4,427.4 676.4,427.4 676.4,422.4 680.4,422.4 680.4,425.4 682.4,425.4 682.4,426.4 684.4,426.4 684.4,423.9 689.4,423.9 689.4,422.9 691.4,422.9 691.4,421.9 694.4,421.9 694.4,425.9 697.4,425.9 697.4,428.9 700.4,428.9 700.4,424.9 702.4,424.9 702.4,428.9 705.4,428.9 705.4,427.9 709.4,427.9 709.4,424.9 712.4,424.9 712.4,424.9 715.4,424.9 715.4,429.4 718.4,429.4 718.4,428.4 720.4,428.4 720.4,426.9 723.4,426.9 723.4,426.4 726.4,426.4 726.4,426.9 729.4,426.9 729.4,422.4 733.4,422.4 733.4,423.4 735.4,423.4 735.4,425.4 738.4,425.4 738.4,426.9 742.4,426.9 742.4,428.4 744.4,428.4 744.4,421.4 747.4,421.4 747.4,427.4 750.4,427.4 750.4,421.4 754.4,421.4 754.4,428.4 756.4,428.4 756.4,423.9 759.4,423.9 759.4,422.4 762.4,422.4 762.4,423.9 767.4,423.9 767.4,423.9 770.4,423.9 770.4,425.9 774.4,425.9 774.4,422.9 777.4,422.9 777.4,427.9 782.4,427.9 782.4,429.4 785.4,429.4 785.4,424.9 789.4,424.9 789.4,426.9 792.4,426.9 792.4,424.4 796.4,424.4 796.4,428.4 799.4,428.4 799.4,424.9 801.4,424.9 801.4,423.4 805.4,423.4 805.4,427.4 808.4,427.4 808.4,428.9 811.4,428.9 811.4,423.9 814.4,423.9 814.4,430.9 819.4,430.9 819.4,427.9 821.4,427.9 821.4,429.9 824.4,429.9 824.4,429.9 826.4,429.9" fill="none" stroke="#90ee90" stroke-width="0.9"/>
<rect x="104" y="466" width="722" height="1" fill="#004600"/>
<rect x="163" y="465.5" width="3" height="1" fill="#8b0000"/>
<rect x="168" y="465.5" width="3" height="1" fill="#8b0000"/>
<rect x="187" y="465.5" width="3" height="1" fill="#8b0000"/>
<rect x="208" y="465.5" width="3" height="1" fill="#8b0000"/>
<rect x="304" y="465.5" width="3" height="1" fill="#8b0000"/>
<rect x="311" y="465.5" width="3" height="1" fill="#8b0000"/>
<rect x="322" y="465.5" width="3" height="1" fill="#8b0000"/>
<rect x="337" y="465.5" width="3" height="1" fill="#8b0000"/>
<rect x="820" y="465.5" width="3" height="1" fill="#8b0000"/>
<rect x="104.2" y="475.5" width="0.8" height="7.5" fill="#c8c800"/>
<text x="105.6" y="482.6" font-family="Liberation Serif,serif" font-size="8" fill="#f0f000" textLength="23.5" lengthAdjust="spacingAndGlyphs">15:25:33</text>
<rect x="145.8" y="475.5" width="0.8" height="7.5" fill="#c8c800"/>
<text x="147.2" y="482.6" font-family="Liberation Serif,serif" font-size="8" fill="#f0f000" textLength="23.5" lengthAdjust="spacingAndGlyphs">15:25:50</text>
<rect x="187.3" y="475.5" width="0.8" height="7.5" fill="#c8c800"/>
<text x="188.7" y="482.6" font-family="Liberation Serif,serif" font-size="8" fill="#f0f000" textLength="23.5" lengthAdjust="spacingAndGlyphs">15:26:08</text>
<rect x="228.8" y="475.5" width="0.8" height="7.5" fill="#c8c800"/>
<text x="230.2" y="482.6" font-family="Liberation Serif,serif" font-size="8" fill="#f0f000" textLength="23.5" lengthAdjust="spacingAndGlyphs">15:26:25</text>
<rect x="270.4" y="475.5" width="0.8" height="7.5" fill="#c8c800"/>
<text x="271.8" y="482.6" font-family="Liberation Serif,serif" font-size="8" fill="#f0f000" textLength="23.5" lengthAdjust="spacingAndGlyphs">15:26:43</text>
<rect x="311.9" y="475.5" width="0.8" height="7.5" fill="#c8c800"/>
<text x="313.4" y="482.6" font-family="Liberation Serif,serif" font-size="8" fill="#f0f000" textLength="23.5" lengthAdjust="spacingAndGlyphs">15:27:00</text>
<rect x="353.5" y="475.5" width="0.8" height="7.5" fill="#c8c800"/>
<text x="354.9" y="482.6" font-family="Liberation Serif,serif" font-size="8" fill="#f0f000" textLength="23.5" lengthAdjust="spacingAndGlyphs">15:27:18</text>
<rect x="395" y="475.5" width="0.8" height="7.5" fill="#c8c800"/>
<text x="396.4" y="482.6" font-family="Liberation Serif,serif" font-size="8" fill="#f0f000" textLength="23.5" lengthAdjust="spacingAndGlyphs">15:27:35</text>
<rect x="436.6" y="475.5" width="0.8" height="7.5" fill="#c8c800"/>
<text x="438" y="482.6" font-family="Liberation Serif,serif" font-size="8" fill="#f0f000" textLength="23.5" lengthAdjust="spacingAndGlyphs">15:27:53</text>
<rect x="478.1" y="475.5" width="0.8" height="7.5" fill="#c8c800"/>
<text x="479.6" y="482.6" font-family="Liberation Serif,serif" font-size="8" fill="#f0f000" textLength="23.5" lengthAdjust="spacingAndGlyphs">15:28:10</text>
<rect x="519.7" y="475.5" width="0.8" height="7.5" fill="#c8c800"/>
<text x="521.1" y="482.6" font-family="Liberation Serif,serif" font-size="8" fill="#f0f000" textLength="23.5" lengthAdjust="spacingAndGlyphs">15:28:28</text>
<rect x="561.2" y="475.5" width="0.8" height="7.5" fill="#c8c800"/>
<text x="562.6" y="482.6" font-family="Liberation Serif,serif" font-size="8" fill="#f0f000" textLength="23.5" lengthAdjust="spacingAndGlyphs">15:28:45</text>
<rect x="602.8" y="475.5" width="0.8" height="7.5" fill="#c8c800"/>
<text x="604.2" y="482.6" font-family="Liberation Serif,serif" font-size="8" fill="#f0f000" textLength="23.5" lengthAdjust="spacingAndGlyphs">15:29:03</text>
<rect x="644.4" y="475.5" width="0.8" height="7.5" fill="#c8c800"/>
<text x="645.8" y="482.6" font-family="Liberation Serif,serif" font-size="8" fill="#f0f000" textLength="23.5" lengthAdjust="spacingAndGlyphs">15:29:20</text>
<rect x="685.9" y="475.5" width="0.8" height="7.5" fill="#c8c800"/>
<text x="687.3" y="482.6" font-family="Liberation Serif,serif" font-size="8" fill="#f0f000" textLength="23.5" lengthAdjust="spacingAndGlyphs">15:29:38</text>
<rect x="727.5" y="475.5" width="0.8" height="7.5" fill="#c8c800"/>
<text x="728.9" y="482.6" font-family="Liberation Serif,serif" font-size="8" fill="#f0f000" textLength="23.5" lengthAdjust="spacingAndGlyphs">15:29:55</text>
<rect x="769" y="475.5" width="0.8" height="7.5" fill="#c8c800"/>
<text x="770.4" y="482.6" font-family="Liberation Serif,serif" font-size="8" fill="#f0f000" textLength="23.5" lengthAdjust="spacingAndGlyphs">15:30:13</text>
<rect x="810.5" y="475.5" width="0.8" height="7.5" fill="#c8c800"/>
<text x="811.9" y="482.6" font-family="Liberation Serif,serif" font-size="8" fill="#f0f000" textLength="23.5" lengthAdjust="spacingAndGlyphs">15:30:30</text>
</g>
<rect x="826" y="397" width="31" height="97" fill="#f0f0f0"/>
<text x="849" y="423.4" font-family="Liberation Serif,serif" font-size="9.5" text-anchor="end" fill="#222">100</text>
<rect x="852" y="419.5" width="3" height="1" fill="#333"/>
<text x="849" y="447" font-family="Liberation Serif,serif" font-size="9.5" text-anchor="end" fill="#222">50</text>
<rect x="852" y="443.1" width="3" height="1" fill="#333"/>
<text x="849" y="470.6" font-family="Liberation Serif,serif" font-size="9.5" text-anchor="end" fill="#222">0</text>
<rect x="852" y="466.7" width="3" height="1" fill="#333"/>
<rect x="852" y="397.5" width="3" height="1" fill="#333"/>
<rect x="856.5" y="397" width="1.5" height="97" fill="#e8e000"/>
<path d="M80.2 489.6l-2.2 2.2 2.2 2.2" transform="translate(0,-2.6)" fill="none" stroke="#444" stroke-width="1"/>
<rect x="84" y="484.5" width="10" height="9" fill="#cdcdcd"/>
<path d="M848.8 486.8l2.2 2.2-2.2 2.2" fill="none" stroke="#444" stroke-width="1"/>
</svg>
<div class="a" style="left:2px;top:65.6px;width:17px;height:1px;background:repeating-linear-gradient(90deg,#c4c4c4 0 1.1px,transparent 1.1px 2.45px)"></div>
<div class="a" style="left:2px;top:199.6px;width:17px;height:1px;background:repeating-linear-gradient(90deg,#c4c4c4 0 1.1px,transparent 1.1px 2.45px)"></div>
<svg class="a" style="left:6px;top:69px" width="12" height="12" viewBox="0 0 12 12"><path d="M3.3 5.2v4.4" fill="none" stroke="#9aa8b4" stroke-width="1.3"/><path d="M4.4 3.6l2-0.9 2.2 1.4" fill="none" stroke="#4a4a4a" stroke-width="1.5"/><rect x="5.2" y="4.9" width="1.9" height="4.9" fill="#e01010"/></svg>
<svg class="a" style="left:21px;top:62px" width="4" height="4" viewBox="0 0 4 4"><path d="M0.8 1l2.6 2.6" stroke="#444" stroke-width="1.2"/></svg>
<div class="a" style="left:3px;top:185px;font-size:6.2px;line-height:8px;color:#222">cm/s</div>
<div class="a" style="left:9px;top:206px;font-size:7px;line-height:8px;color:#334">+</div>
<div class="a" style="left:10px;top:283px;font-size:7px;line-height:8px;color:#334">-</div>
<div class="a" style="left:502px;top:65.6px;width:17px;height:1px;background:repeating-linear-gradient(90deg,#c4c4c4 0 1.1px,transparent 1.1px 2.45px)"></div>
<div class="a" style="left:502px;top:199.6px;width:17px;height:1px;background:repeating-linear-gradient(90deg,#c4c4c4 0 1.1px,transparent 1.1px 2.45px)"></div>
<svg class="a" style="left:506px;top:69px" width="12" height="12" viewBox="0 0 12 12"><path d="M3.3 5.2v4.4" fill="none" stroke="#9aa8b4" stroke-width="1.3"/><path d="M4.4 3.6l2-0.9 2.2 1.4" fill="none" stroke="#4a4a4a" stroke-width="1.5"/><rect x="5.2" y="4.9" width="1.9" height="4.9" fill="#e01010"/></svg>
<svg class="a" style="left:521px;top:62px" width="4" height="4" viewBox="0 0 4 4"><path d="M0.8 1l2.6 2.6" stroke="#444" stroke-width="1.2"/></svg>
<div class="a" style="left:503px;top:185px;font-size:7px;line-height:8px;color:#222;font-family:'Liberation Mono',monospace;letter-spacing:-0.9px">cm/ s</div>
<div class="a" style="left:509px;top:206px;font-size:7px;line-height:8px;color:#334">+</div>
<div class="a" style="left:510px;top:283px;font-size:7px;line-height:8px;color:#334">-</div>
<div class="a" style="left:3px;top:85px;font-size:7px;line-height:9px;color:#555;letter-spacing:-0.3px">((LR))</div>
<div class="a" style="left:7px;top:94px;font-size:7px;line-height:9px;color:#ff2020">RC</div>
<svg class="a" style="left:3px;top:104px" width="16" height="8" viewBox="0 0 16 8"><rect x="1" y="1.5" width="5" height="5" fill="#000"/><path d="M14 4H8M10.2 1.8L8 4l2.2 2.2" fill="none" stroke="#000" stroke-width="1"/></svg>
<svg class="a" style="left:503px;top:97px" width="16" height="8" viewBox="0 0 16 8"><rect x="1" y="1.5" width="5" height="5" fill="#000"/><path d="M14 4H8M10.2 1.8L8 4l2.2 2.2" fill="none" stroke="#000" stroke-width="1"/></svg>
<div class="leg" style="top:297px;height:97px"><i style="top:2.2px;background:#ff0000"></i><span style="top:0.5px">MCA L To Probe Env</span><i style="top:11.5px;background:#008000"></i><span style="top:10px">MCA R To Probe Env</span></div>
<div class="sb" style="left:1px;top:383px;width:70px"><s style="left:10px;width:32px"></s><svg class="a" style="left:0;top:0" width="70" height="10" viewBox="0 0 70 10"><path d="M6 2.8L3.8 5 6 7.2M64 2.8L66.2 5 64 7.2" fill="none" stroke="#333" stroke-width="1.3"/></svg></div>
<div class="a" style="left:0;top:393.8px;width:73px;height:3.4px;background:#1c1c1c"></div><div class="a" style="left:0;top:394.5px;width:73px;height:1.8px;background:#fff"></div>
<div class="leg" style="top:397px;height:97px"><i style="top:2.2px;background:#ffb6c1"></i><span style="top:0.5px">MCA L Mean</span><i style="top:11.5px;background:#8b0000"></i><span style="top:10px">MCA L PI</span><i style="top:21px;background:#90ee90"></i><span style="top:19.5px">MCA R Mean</span><i style="top:30.3px;background:#006400"></i><span style="top:29px">MCA R PI</span></div>
<div class="sb" style="left:1px;top:483px;width:70px"><s style="left:10px;width:46px"></s><svg class="a" style="left:0;top:0" width="70" height="10" viewBox="0 0 70 10"><path d="M6 2.8L3.8 5 6 7.2M64 2.8L66.2 5 64 7.2" fill="none" stroke="#333" stroke-width="1.3"/></svg></div>
<div class="a" style="left:858px;top:397px;width:142px;height:97px;background:#000;border-bottom:1px solid #3a3a3a"></div>
<div class="a" style="left:858px;top:398px;width:142px;height:14px;background:#fff;border-bottom:1px solid #ddd;font-size:7px;line-height:14px;color:#222"><span class="a" style="left:24px;top:0;border-left:1px solid #e0e0e0;padding-left:4px">Marker</span><span class="a" style="left:83px;top:0;border-left:1px solid #e0e0e0;padding-left:4px">Time</span></div>
<div class="sb" style="left:858px;top:483px;width:141px"><s style="left:10px;width:60px"></s><svg class="a" style="left:0;top:0" width="141" height="10" viewBox="0 0 141 10"><path d="M6 2.8L3.8 5 6 7.2M135 2.8L137.2 5 135 7.2" fill="none" stroke="#333" stroke-width="1.3"/></svg></div>
<div class="a" style="left:0;top:494px;width:1000px;height:13px;background:#f0f0f0"></div>
</body></html>
